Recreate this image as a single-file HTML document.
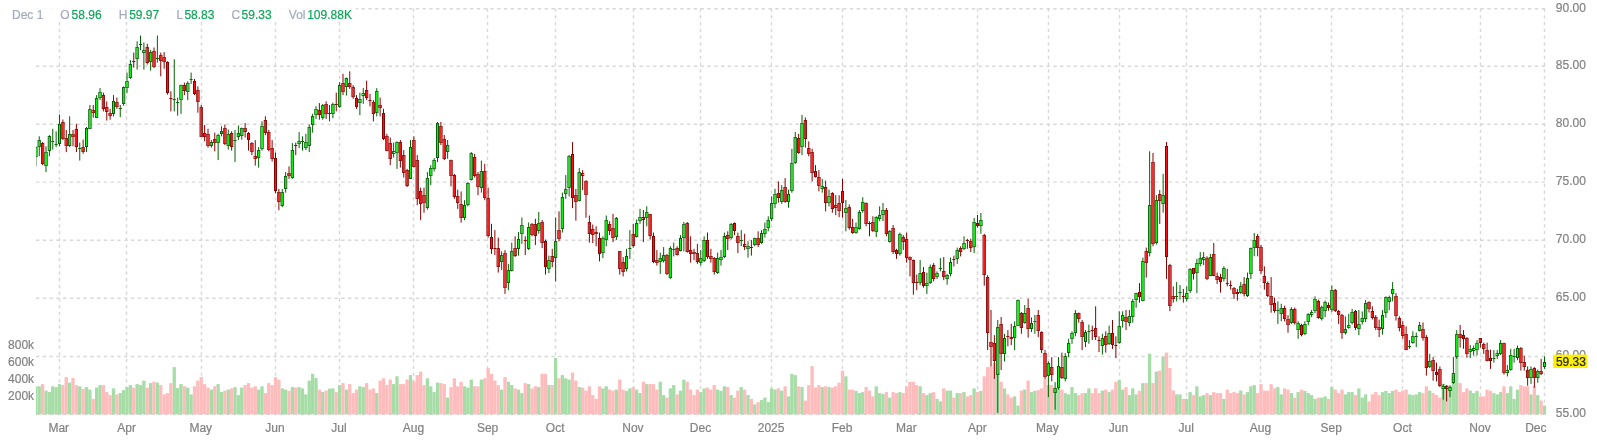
<!DOCTYPE html><html><head><meta charset="utf-8"><title>Chart</title><style>
html,body{margin:0;padding:0;background:#fff;}
body{width:1597px;height:444px;overflow:hidden;position:relative;font-family:"Liberation Sans",sans-serif;}
svg{position:absolute;left:0;top:0;}
.g{stroke:#006400;fill:#00ff00;stroke-width:1}.r{stroke:#8b0000;fill:#ff1010;stroke-width:1}
.t{font-family:"Liberation Sans",sans-serif;font-size:12px;stroke-width:0.2px;}
</style></head><body>
<svg width="1597" height="444" viewBox="0 0 1597 444">
<rect x="0" y="0" width="1597" height="444" fill="#ffffff"/>
<g stroke="#d8d8d8" stroke-width="1.45" stroke-dasharray="3.3 3.482" fill="none">
<line x1="36" y1="8.7" x2="1545" y2="8.7"/>
<line x1="36" y1="66.2" x2="1545" y2="66.2"/>
<line x1="36" y1="124.3" x2="1545" y2="124.3"/>
<line x1="36" y1="182.1" x2="1545" y2="182.1"/>
<line x1="36" y1="240.3" x2="1545" y2="240.3"/>
<line x1="36" y1="298.3" x2="1545" y2="298.3"/>
<line x1="36" y1="356.5" x2="1545" y2="356.5"/>
<line x1="36" y1="414.3" x2="1545" y2="414.3"/>
<line x1="59.5" y1="8.5" x2="59.5" y2="414.5" stroke-dasharray="3.3 3.44"/>
<line x1="126.5" y1="8.5" x2="126.5" y2="414.5" stroke-dasharray="3.3 3.44"/>
<line x1="201.5" y1="8.5" x2="201.5" y2="414.5" stroke-dasharray="3.3 3.44"/>
<line x1="275.5" y1="8.5" x2="275.5" y2="414.5" stroke-dasharray="3.3 3.44"/>
<line x1="339.5" y1="8.5" x2="339.5" y2="414.5" stroke-dasharray="3.3 3.44"/>
<line x1="413.5" y1="8.5" x2="413.5" y2="414.5" stroke-dasharray="3.3 3.44"/>
<line x1="487.5" y1="8.5" x2="487.5" y2="414.5" stroke-dasharray="3.3 3.44"/>
<line x1="555.5" y1="8.5" x2="555.5" y2="414.5" stroke-dasharray="3.3 3.44"/>
<line x1="633.5" y1="8.5" x2="633.5" y2="414.5" stroke-dasharray="3.3 3.44"/>
<line x1="700.5" y1="8.5" x2="700.5" y2="414.5" stroke-dasharray="3.3 3.44"/>
<line x1="771.5" y1="8.5" x2="771.5" y2="414.5" stroke-dasharray="3.3 3.44"/>
<line x1="842.5" y1="8.5" x2="842.5" y2="414.5" stroke-dasharray="3.3 3.44"/>
<line x1="906.5" y1="8.5" x2="906.5" y2="414.5" stroke-dasharray="3.3 3.44"/>
<line x1="977.5" y1="8.5" x2="977.5" y2="414.5" stroke-dasharray="3.3 3.44"/>
<line x1="1048.5" y1="8.5" x2="1048.5" y2="414.5" stroke-dasharray="3.3 3.44"/>
<line x1="1119.5" y1="8.5" x2="1119.5" y2="414.5" stroke-dasharray="3.3 3.44"/>
<line x1="1186.5" y1="8.5" x2="1186.5" y2="414.5" stroke-dasharray="3.3 3.44"/>
<line x1="1260.5" y1="8.5" x2="1260.5" y2="414.5" stroke-dasharray="3.3 3.44"/>
<line x1="1331.5" y1="8.5" x2="1331.5" y2="414.5" stroke-dasharray="3.3 3.44"/>
<line x1="1402.5" y1="8.5" x2="1402.5" y2="414.5" stroke-dasharray="3.3 3.44"/>
<line x1="1480.5" y1="8.5" x2="1480.5" y2="414.5" stroke-dasharray="3.3 3.44"/>
<line x1="1544.5" y1="8.5" x2="1544.5" y2="414.5" stroke-dasharray="3.3 3.44"/>
</g>
<defs><clipPath id="cp"><rect x="36" y="0" width="1511" height="415"/></clipPath></defs>
<g clip-path="url(#cp)">
<g fill="#a6dca6"><rect x="1542.84" y="405.6" width="3.3" height="8.8"/><rect x="1536.09" y="395.1" width="3.3" height="19.3"/><rect x="1529.34" y="394.4" width="3.3" height="20.0"/><rect x="1515.84" y="389.6" width="3.3" height="24.8"/><rect x="1512.46" y="398.9" width="3.3" height="15.5"/><rect x="1509.09" y="386.3" width="3.3" height="28.1"/><rect x="1505.71" y="393.1" width="3.3" height="21.3"/><rect x="1498.96" y="392.1" width="3.3" height="22.3"/><rect x="1495.59" y="394.4" width="3.3" height="20.0"/><rect x="1492.21" y="393.1" width="3.3" height="21.3"/><rect x="1475.34" y="390.9" width="3.3" height="23.5"/><rect x="1471.96" y="393.1" width="3.3" height="21.3"/><rect x="1468.59" y="390.6" width="3.3" height="23.8"/><rect x="1455.09" y="356.3" width="3.3" height="58.1"/><rect x="1451.71" y="376.3" width="3.3" height="38.1"/><rect x="1448.34" y="386.3" width="3.3" height="28.1"/><rect x="1441.59" y="383.8" width="3.3" height="30.6"/><rect x="1428.09" y="390.6" width="3.3" height="23.8"/><rect x="1417.96" y="392.1" width="3.3" height="22.3"/><rect x="1414.59" y="394.4" width="3.3" height="20.0"/><rect x="1411.21" y="395.1" width="3.3" height="19.3"/><rect x="1407.84" y="394.4" width="3.3" height="20.0"/><rect x="1390.96" y="390.9" width="3.3" height="23.5"/><rect x="1387.59" y="393.1" width="3.3" height="21.3"/><rect x="1384.21" y="390.9" width="3.3" height="23.5"/><rect x="1380.84" y="392.1" width="3.3" height="22.3"/><rect x="1363.96" y="394.4" width="3.3" height="20.0"/><rect x="1360.59" y="397.6" width="3.3" height="16.8"/><rect x="1357.21" y="388.4" width="3.3" height="26.0"/><rect x="1350.46" y="392.1" width="3.3" height="22.3"/><rect x="1347.09" y="392.1" width="3.3" height="22.3"/><rect x="1343.71" y="394.4" width="3.3" height="20.0"/><rect x="1330.21" y="387.1" width="3.3" height="27.3"/><rect x="1323.46" y="396.4" width="3.3" height="18.0"/><rect x="1320.09" y="397.6" width="3.3" height="16.8"/><rect x="1313.34" y="398.9" width="3.3" height="15.5"/><rect x="1309.96" y="395.1" width="3.3" height="19.3"/><rect x="1306.59" y="393.1" width="3.3" height="21.3"/><rect x="1303.21" y="390.9" width="3.3" height="23.5"/><rect x="1296.46" y="392.1" width="3.3" height="22.3"/><rect x="1289.71" y="393.1" width="3.3" height="21.3"/><rect x="1279.59" y="394.4" width="3.3" height="20.0"/><rect x="1276.21" y="387.1" width="3.3" height="27.3"/><rect x="1252.59" y="385.1" width="3.3" height="29.3"/><rect x="1249.21" y="386.3" width="3.3" height="28.1"/><rect x="1245.84" y="392.1" width="3.3" height="22.3"/><rect x="1239.09" y="390.6" width="3.3" height="23.8"/><rect x="1222.21" y="398.9" width="3.3" height="15.5"/><rect x="1208.71" y="395.1" width="3.3" height="19.3"/><rect x="1201.96" y="395.1" width="3.3" height="19.3"/><rect x="1198.59" y="396.4" width="3.3" height="18.0"/><rect x="1195.21" y="386.3" width="3.3" height="28.1"/><rect x="1188.46" y="392.1" width="3.3" height="22.3"/><rect x="1185.09" y="398.9" width="3.3" height="15.5"/><rect x="1178.34" y="394.4" width="3.3" height="20.0"/><rect x="1174.96" y="394.4" width="3.3" height="20.0"/><rect x="1161.46" y="357.0" width="3.3" height="57.4"/><rect x="1154.71" y="371.6" width="3.3" height="42.8"/><rect x="1147.96" y="353.8" width="3.3" height="60.6"/><rect x="1141.21" y="383.1" width="3.3" height="31.3"/><rect x="1134.46" y="394.4" width="3.3" height="20.0"/><rect x="1131.09" y="388.4" width="3.3" height="26.0"/><rect x="1127.71" y="395.1" width="3.3" height="19.3"/><rect x="1120.96" y="389.6" width="3.3" height="24.8"/><rect x="1117.59" y="380.1" width="3.3" height="34.3"/><rect x="1107.46" y="392.1" width="3.3" height="22.3"/><rect x="1100.71" y="390.6" width="3.3" height="23.8"/><rect x="1087.21" y="388.4" width="3.3" height="26.0"/><rect x="1083.84" y="393.1" width="3.3" height="21.3"/><rect x="1073.71" y="393.1" width="3.3" height="21.3"/><rect x="1070.34" y="387.1" width="3.3" height="27.3"/><rect x="1066.96" y="394.4" width="3.3" height="20.0"/><rect x="1063.59" y="393.1" width="3.3" height="21.3"/><rect x="1056.84" y="387.6" width="3.3" height="26.8"/><rect x="1053.46" y="388.9" width="3.3" height="25.5"/><rect x="1046.71" y="385.1" width="3.3" height="29.3"/><rect x="1033.21" y="390.9" width="3.3" height="23.5"/><rect x="1029.84" y="392.1" width="3.3" height="22.3"/><rect x="1023.09" y="389.6" width="3.3" height="24.8"/><rect x="1016.34" y="405.6" width="3.3" height="8.8"/><rect x="1012.97" y="396.4" width="3.3" height="18.0"/><rect x="1002.84" y="388.4" width="3.3" height="26.0"/><rect x="996.09" y="372.6" width="3.3" height="41.8"/><rect x="979.22" y="390.9" width="3.3" height="23.5"/><rect x="972.47" y="388.4" width="3.3" height="26.0"/><rect x="962.34" y="392.1" width="3.3" height="22.3"/><rect x="955.59" y="393.1" width="3.3" height="21.3"/><rect x="948.84" y="390.6" width="3.3" height="23.8"/><rect x="945.47" y="390.6" width="3.3" height="23.8"/><rect x="938.72" y="401.4" width="3.3" height="13.0"/><rect x="935.34" y="398.9" width="3.3" height="15.5"/><rect x="928.59" y="393.1" width="3.3" height="21.3"/><rect x="925.22" y="395.1" width="3.3" height="19.3"/><rect x="918.47" y="386.3" width="3.3" height="28.1"/><rect x="898.22" y="392.1" width="3.3" height="22.3"/><rect x="888.09" y="397.6" width="3.3" height="16.8"/><rect x="881.34" y="393.9" width="3.3" height="20.5"/><rect x="877.97" y="393.1" width="3.3" height="21.3"/><rect x="874.59" y="386.3" width="3.3" height="28.1"/><rect x="861.09" y="392.1" width="3.3" height="22.3"/><rect x="857.72" y="393.1" width="3.3" height="21.3"/><rect x="854.34" y="390.9" width="3.3" height="23.5"/><rect x="844.22" y="376.3" width="3.3" height="38.1"/><rect x="827.34" y="387.1" width="3.3" height="27.3"/><rect x="820.59" y="387.1" width="3.3" height="27.3"/><rect x="800.34" y="387.1" width="3.3" height="27.3"/><rect x="793.59" y="375.1" width="3.3" height="39.3"/><rect x="790.22" y="373.8" width="3.3" height="40.6"/><rect x="786.84" y="396.4" width="3.3" height="18.0"/><rect x="780.09" y="390.6" width="3.3" height="23.8"/><rect x="773.34" y="389.6" width="3.3" height="24.8"/><rect x="769.97" y="388.4" width="3.3" height="26.0"/><rect x="766.59" y="402.1" width="3.3" height="12.3"/><rect x="763.22" y="397.6" width="3.3" height="16.8"/><rect x="759.84" y="400.1" width="3.3" height="14.3"/><rect x="753.09" y="404.4" width="3.3" height="10.0"/><rect x="746.34" y="395.1" width="3.3" height="19.3"/><rect x="739.59" y="387.1" width="3.3" height="27.3"/><rect x="729.47" y="395.1" width="3.3" height="19.3"/><rect x="722.72" y="386.3" width="3.3" height="28.1"/><rect x="719.34" y="390.9" width="3.3" height="23.5"/><rect x="715.97" y="389.6" width="3.3" height="24.8"/><rect x="702.47" y="388.4" width="3.3" height="26.0"/><rect x="699.09" y="392.1" width="3.3" height="22.3"/><rect x="682.22" y="379.6" width="3.3" height="34.8"/><rect x="678.84" y="390.6" width="3.3" height="23.8"/><rect x="672.09" y="385.1" width="3.3" height="29.3"/><rect x="668.72" y="388.4" width="3.3" height="26.0"/><rect x="661.97" y="395.1" width="3.3" height="19.3"/><rect x="658.59" y="381.8" width="3.3" height="32.6"/><rect x="645.09" y="384.1" width="3.3" height="30.3"/><rect x="638.34" y="393.1" width="3.3" height="21.3"/><rect x="634.97" y="389.6" width="3.3" height="24.8"/><rect x="628.22" y="388.4" width="3.3" height="26.0"/><rect x="624.84" y="390.9" width="3.3" height="23.5"/><rect x="614.72" y="389.6" width="3.3" height="24.8"/><rect x="604.59" y="386.3" width="3.3" height="28.1"/><rect x="601.22" y="388.4" width="3.3" height="26.0"/><rect x="577.59" y="387.1" width="3.3" height="27.3"/><rect x="567.47" y="379.6" width="3.3" height="34.8"/><rect x="564.09" y="378.3" width="3.3" height="36.1"/><rect x="560.72" y="375.1" width="3.3" height="39.3"/><rect x="553.97" y="358.0" width="3.3" height="56.4"/><rect x="547.22" y="385.1" width="3.3" height="29.3"/><rect x="537.09" y="387.1" width="3.3" height="27.3"/><rect x="526.97" y="384.1" width="3.3" height="30.3"/><rect x="520.22" y="393.1" width="3.3" height="21.3"/><rect x="516.84" y="389.6" width="3.3" height="24.8"/><rect x="510.09" y="385.1" width="3.3" height="29.3"/><rect x="506.71" y="381.8" width="3.3" height="32.6"/><rect x="499.96" y="389.6" width="3.3" height="24.8"/><rect x="479.71" y="379.6" width="3.3" height="34.8"/><rect x="469.59" y="379.6" width="3.3" height="34.8"/><rect x="466.21" y="387.6" width="3.3" height="26.8"/><rect x="462.84" y="386.3" width="3.3" height="28.1"/><rect x="445.96" y="397.6" width="3.3" height="16.8"/><rect x="435.84" y="382.6" width="3.3" height="31.8"/><rect x="432.46" y="392.1" width="3.3" height="22.3"/><rect x="429.09" y="386.3" width="3.3" height="28.1"/><rect x="425.71" y="378.3" width="3.3" height="36.1"/><rect x="408.84" y="375.1" width="3.3" height="39.3"/><rect x="395.34" y="376.3" width="3.3" height="38.1"/><rect x="391.96" y="384.1" width="3.3" height="30.3"/><rect x="375.09" y="393.1" width="3.3" height="21.3"/><rect x="361.59" y="387.1" width="3.3" height="27.3"/><rect x="358.21" y="386.3" width="3.3" height="28.1"/><rect x="344.71" y="389.6" width="3.3" height="24.8"/><rect x="337.96" y="385.1" width="3.3" height="29.3"/><rect x="331.21" y="388.4" width="3.3" height="26.0"/><rect x="327.84" y="388.6" width="3.3" height="25.8"/><rect x="321.09" y="392.1" width="3.3" height="22.3"/><rect x="314.34" y="378.1" width="3.3" height="36.3"/><rect x="310.96" y="373.8" width="3.3" height="40.6"/><rect x="307.59" y="380.6" width="3.3" height="33.8"/><rect x="304.21" y="394.4" width="3.3" height="20.0"/><rect x="300.84" y="388.4" width="3.3" height="26.0"/><rect x="297.46" y="387.1" width="3.3" height="27.3"/><rect x="290.71" y="387.1" width="3.3" height="27.3"/><rect x="283.96" y="389.6" width="3.3" height="24.8"/><rect x="280.59" y="388.4" width="3.3" height="26.0"/><rect x="260.34" y="386.3" width="3.3" height="28.1"/><rect x="256.96" y="389.6" width="3.3" height="24.8"/><rect x="240.09" y="387.6" width="3.3" height="26.8"/><rect x="236.72" y="395.1" width="3.3" height="19.3"/><rect x="233.34" y="387.1" width="3.3" height="27.3"/><rect x="226.59" y="389.6" width="3.3" height="24.8"/><rect x="219.84" y="392.1" width="3.3" height="22.3"/><rect x="216.47" y="384.1" width="3.3" height="30.3"/><rect x="209.72" y="389.6" width="3.3" height="24.8"/><rect x="189.47" y="394.4" width="3.3" height="20.0"/><rect x="186.09" y="387.6" width="3.3" height="26.8"/><rect x="179.34" y="384.1" width="3.3" height="30.3"/><rect x="175.97" y="388.1" width="3.3" height="26.3"/><rect x="172.59" y="367.1" width="3.3" height="47.3"/><rect x="155.72" y="382.6" width="3.3" height="31.8"/><rect x="148.97" y="383.1" width="3.3" height="31.3"/><rect x="142.22" y="380.6" width="3.3" height="33.8"/><rect x="138.84" y="385.1" width="3.3" height="29.3"/><rect x="135.47" y="384.1" width="3.3" height="30.3"/><rect x="128.72" y="385.1" width="3.3" height="29.3"/><rect x="125.34" y="387.1" width="3.3" height="27.3"/><rect x="121.97" y="390.1" width="3.3" height="24.3"/><rect x="118.59" y="393.1" width="3.3" height="21.3"/><rect x="111.84" y="388.4" width="3.3" height="26.0"/><rect x="98.34" y="385.1" width="3.3" height="29.3"/><rect x="94.97" y="387.6" width="3.3" height="26.8"/><rect x="88.22" y="389.6" width="3.3" height="24.8"/><rect x="84.84" y="387.1" width="3.3" height="27.3"/><rect x="78.09" y="386.3" width="3.3" height="28.1"/><rect x="67.97" y="382.6" width="3.3" height="31.8"/><rect x="57.84" y="384.1" width="3.3" height="30.3"/><rect x="54.47" y="387.1" width="3.3" height="27.3"/><rect x="51.09" y="386.3" width="3.3" height="28.1"/><rect x="47.72" y="392.1" width="3.3" height="22.3"/><rect x="44.34" y="390.6" width="3.3" height="23.8"/><rect x="37.59" y="386.3" width="3.3" height="28.1"/><rect x="34.22" y="386.3" width="3.3" height="28.1"/></g>
<g fill="#ffbcbc"><rect x="1539.46" y="400.6" width="3.3" height="13.8"/><rect x="1532.71" y="386.3" width="3.3" height="28.1"/><rect x="1525.96" y="386.3" width="3.3" height="28.1"/><rect x="1522.59" y="386.3" width="3.3" height="28.1"/><rect x="1519.21" y="385.1" width="3.3" height="29.3"/><rect x="1502.34" y="386.3" width="3.3" height="28.1"/><rect x="1488.84" y="390.9" width="3.3" height="23.5"/><rect x="1485.46" y="389.6" width="3.3" height="24.8"/><rect x="1482.09" y="396.4" width="3.3" height="18.0"/><rect x="1478.71" y="396.4" width="3.3" height="18.0"/><rect x="1465.21" y="388.4" width="3.3" height="26.0"/><rect x="1461.84" y="392.1" width="3.3" height="22.3"/><rect x="1458.46" y="383.1" width="3.3" height="31.3"/><rect x="1444.96" y="385.1" width="3.3" height="29.3"/><rect x="1438.21" y="397.6" width="3.3" height="16.8"/><rect x="1434.84" y="395.1" width="3.3" height="19.3"/><rect x="1431.46" y="393.1" width="3.3" height="21.3"/><rect x="1424.71" y="386.3" width="3.3" height="28.1"/><rect x="1421.34" y="393.1" width="3.3" height="21.3"/><rect x="1404.46" y="389.6" width="3.3" height="24.8"/><rect x="1401.09" y="390.6" width="3.3" height="23.8"/><rect x="1397.71" y="392.1" width="3.3" height="22.3"/><rect x="1394.34" y="389.6" width="3.3" height="24.8"/><rect x="1377.46" y="395.1" width="3.3" height="19.3"/><rect x="1374.09" y="392.1" width="3.3" height="22.3"/><rect x="1370.71" y="394.4" width="3.3" height="20.0"/><rect x="1367.34" y="401.4" width="3.3" height="13.0"/><rect x="1353.84" y="395.1" width="3.3" height="19.3"/><rect x="1340.34" y="389.6" width="3.3" height="24.8"/><rect x="1336.96" y="393.1" width="3.3" height="21.3"/><rect x="1333.59" y="389.6" width="3.3" height="24.8"/><rect x="1326.84" y="398.9" width="3.3" height="15.5"/><rect x="1316.71" y="397.6" width="3.3" height="16.8"/><rect x="1299.84" y="389.6" width="3.3" height="24.8"/><rect x="1293.09" y="397.6" width="3.3" height="16.8"/><rect x="1286.34" y="389.6" width="3.3" height="24.8"/><rect x="1282.96" y="388.4" width="3.3" height="26.0"/><rect x="1272.84" y="388.4" width="3.3" height="26.0"/><rect x="1269.46" y="384.1" width="3.3" height="30.3"/><rect x="1266.09" y="390.6" width="3.3" height="23.8"/><rect x="1262.71" y="390.6" width="3.3" height="23.8"/><rect x="1259.34" y="384.1" width="3.3" height="30.3"/><rect x="1255.96" y="393.1" width="3.3" height="21.3"/><rect x="1242.46" y="394.4" width="3.3" height="20.0"/><rect x="1235.71" y="393.1" width="3.3" height="21.3"/><rect x="1232.34" y="392.1" width="3.3" height="22.3"/><rect x="1228.96" y="393.1" width="3.3" height="21.3"/><rect x="1225.59" y="389.6" width="3.3" height="24.8"/><rect x="1218.84" y="393.1" width="3.3" height="21.3"/><rect x="1215.46" y="393.1" width="3.3" height="21.3"/><rect x="1212.09" y="392.1" width="3.3" height="22.3"/><rect x="1205.34" y="393.1" width="3.3" height="21.3"/><rect x="1191.84" y="395.1" width="3.3" height="19.3"/><rect x="1181.71" y="398.9" width="3.3" height="15.5"/><rect x="1171.59" y="390.6" width="3.3" height="23.8"/><rect x="1168.21" y="368.1" width="3.3" height="46.3"/><rect x="1164.84" y="352.5" width="3.3" height="61.9"/><rect x="1158.09" y="370.6" width="3.3" height="43.8"/><rect x="1151.34" y="383.1" width="3.3" height="31.3"/><rect x="1144.59" y="383.1" width="3.3" height="31.3"/><rect x="1137.84" y="390.9" width="3.3" height="23.5"/><rect x="1124.34" y="387.1" width="3.3" height="27.3"/><rect x="1114.21" y="381.8" width="3.3" height="32.6"/><rect x="1110.84" y="389.6" width="3.3" height="24.8"/><rect x="1104.09" y="389.6" width="3.3" height="24.8"/><rect x="1097.34" y="393.1" width="3.3" height="21.3"/><rect x="1093.96" y="388.4" width="3.3" height="26.0"/><rect x="1090.59" y="393.1" width="3.3" height="21.3"/><rect x="1080.46" y="393.1" width="3.3" height="21.3"/><rect x="1077.09" y="395.1" width="3.3" height="19.3"/><rect x="1060.21" y="389.6" width="3.3" height="24.8"/><rect x="1050.09" y="385.1" width="3.3" height="29.3"/><rect x="1043.34" y="378.8" width="3.3" height="35.6"/><rect x="1039.96" y="388.4" width="3.3" height="26.0"/><rect x="1036.59" y="390.1" width="3.3" height="24.3"/><rect x="1026.46" y="380.6" width="3.3" height="33.8"/><rect x="1019.72" y="390.6" width="3.3" height="23.8"/><rect x="1009.59" y="397.6" width="3.3" height="16.8"/><rect x="1006.22" y="394.4" width="3.3" height="20.0"/><rect x="999.47" y="381.8" width="3.3" height="32.6"/><rect x="992.72" y="363.1" width="3.3" height="51.3"/><rect x="989.34" y="366.3" width="3.3" height="48.1"/><rect x="985.97" y="367.1" width="3.3" height="47.3"/><rect x="982.59" y="376.3" width="3.3" height="38.1"/><rect x="975.84" y="392.1" width="3.3" height="22.3"/><rect x="969.09" y="395.1" width="3.3" height="19.3"/><rect x="965.72" y="396.4" width="3.3" height="18.0"/><rect x="958.97" y="393.1" width="3.3" height="21.3"/><rect x="952.22" y="397.6" width="3.3" height="16.8"/><rect x="942.09" y="388.4" width="3.3" height="26.0"/><rect x="931.97" y="392.1" width="3.3" height="22.3"/><rect x="921.84" y="393.1" width="3.3" height="21.3"/><rect x="915.09" y="385.1" width="3.3" height="29.3"/><rect x="911.72" y="381.8" width="3.3" height="32.6"/><rect x="908.34" y="381.8" width="3.3" height="32.6"/><rect x="904.97" y="386.3" width="3.3" height="28.1"/><rect x="901.59" y="393.1" width="3.3" height="21.3"/><rect x="894.84" y="393.1" width="3.3" height="21.3"/><rect x="891.47" y="392.1" width="3.3" height="22.3"/><rect x="884.72" y="392.1" width="3.3" height="22.3"/><rect x="871.22" y="396.4" width="3.3" height="18.0"/><rect x="867.84" y="390.6" width="3.3" height="23.8"/><rect x="864.47" y="387.1" width="3.3" height="27.3"/><rect x="850.97" y="389.6" width="3.3" height="24.8"/><rect x="847.59" y="389.6" width="3.3" height="24.8"/><rect x="840.84" y="370.6" width="3.3" height="43.8"/><rect x="837.47" y="382.6" width="3.3" height="31.8"/><rect x="834.09" y="386.3" width="3.3" height="28.1"/><rect x="830.72" y="387.6" width="3.3" height="26.8"/><rect x="823.97" y="386.3" width="3.3" height="28.1"/><rect x="817.22" y="385.1" width="3.3" height="29.3"/><rect x="813.84" y="387.6" width="3.3" height="26.8"/><rect x="810.47" y="366.1" width="3.3" height="48.3"/><rect x="807.09" y="385.1" width="3.3" height="29.3"/><rect x="803.72" y="400.6" width="3.3" height="13.8"/><rect x="796.97" y="386.3" width="3.3" height="28.1"/><rect x="783.47" y="386.3" width="3.3" height="28.1"/><rect x="776.72" y="388.4" width="3.3" height="26.0"/><rect x="756.47" y="402.1" width="3.3" height="12.3"/><rect x="749.72" y="398.9" width="3.3" height="15.5"/><rect x="742.97" y="389.6" width="3.3" height="24.8"/><rect x="736.22" y="390.6" width="3.3" height="23.8"/><rect x="732.84" y="397.6" width="3.3" height="16.8"/><rect x="726.09" y="387.1" width="3.3" height="27.3"/><rect x="712.59" y="385.1" width="3.3" height="29.3"/><rect x="709.22" y="389.6" width="3.3" height="24.8"/><rect x="705.84" y="387.6" width="3.3" height="26.8"/><rect x="695.72" y="389.6" width="3.3" height="24.8"/><rect x="692.34" y="395.1" width="3.3" height="19.3"/><rect x="688.97" y="389.6" width="3.3" height="24.8"/><rect x="685.59" y="381.8" width="3.3" height="32.6"/><rect x="675.47" y="394.4" width="3.3" height="20.0"/><rect x="665.34" y="397.6" width="3.3" height="16.8"/><rect x="655.22" y="389.6" width="3.3" height="24.8"/><rect x="651.84" y="384.1" width="3.3" height="30.3"/><rect x="648.47" y="384.1" width="3.3" height="30.3"/><rect x="641.72" y="381.8" width="3.3" height="32.6"/><rect x="631.59" y="387.1" width="3.3" height="27.3"/><rect x="621.47" y="389.6" width="3.3" height="24.8"/><rect x="618.09" y="379.6" width="3.3" height="34.8"/><rect x="611.34" y="390.6" width="3.3" height="23.8"/><rect x="607.97" y="389.6" width="3.3" height="24.8"/><rect x="597.84" y="386.3" width="3.3" height="28.1"/><rect x="594.47" y="398.9" width="3.3" height="15.5"/><rect x="591.09" y="395.1" width="3.3" height="19.3"/><rect x="587.72" y="386.3" width="3.3" height="28.1"/><rect x="584.34" y="390.6" width="3.3" height="23.8"/><rect x="580.97" y="387.6" width="3.3" height="26.8"/><rect x="574.22" y="380.6" width="3.3" height="33.8"/><rect x="570.84" y="372.6" width="3.3" height="41.8"/><rect x="557.34" y="378.3" width="3.3" height="36.1"/><rect x="550.59" y="385.1" width="3.3" height="29.3"/><rect x="543.84" y="373.8" width="3.3" height="40.6"/><rect x="540.47" y="373.8" width="3.3" height="40.6"/><rect x="533.72" y="386.3" width="3.3" height="28.1"/><rect x="530.34" y="388.4" width="3.3" height="26.0"/><rect x="523.59" y="383.1" width="3.3" height="31.3"/><rect x="513.47" y="388.4" width="3.3" height="26.0"/><rect x="503.34" y="377.1" width="3.3" height="37.3"/><rect x="496.59" y="385.1" width="3.3" height="29.3"/><rect x="493.21" y="380.6" width="3.3" height="33.8"/><rect x="489.84" y="373.8" width="3.3" height="40.6"/><rect x="486.46" y="368.1" width="3.3" height="46.3"/><rect x="483.09" y="378.3" width="3.3" height="36.1"/><rect x="476.34" y="386.3" width="3.3" height="28.1"/><rect x="472.96" y="386.3" width="3.3" height="28.1"/><rect x="459.46" y="381.8" width="3.3" height="32.6"/><rect x="456.09" y="386.3" width="3.3" height="28.1"/><rect x="452.71" y="378.3" width="3.3" height="36.1"/><rect x="449.34" y="387.1" width="3.3" height="27.3"/><rect x="442.59" y="384.1" width="3.3" height="30.3"/><rect x="439.21" y="383.1" width="3.3" height="31.3"/><rect x="422.34" y="385.1" width="3.3" height="29.3"/><rect x="418.96" y="371.6" width="3.3" height="42.8"/><rect x="415.59" y="375.1" width="3.3" height="39.3"/><rect x="412.21" y="381.3" width="3.3" height="33.1"/><rect x="405.46" y="379.6" width="3.3" height="34.8"/><rect x="402.09" y="384.1" width="3.3" height="30.3"/><rect x="398.71" y="384.1" width="3.3" height="30.3"/><rect x="388.59" y="379.6" width="3.3" height="34.8"/><rect x="385.21" y="385.1" width="3.3" height="29.3"/><rect x="381.84" y="378.3" width="3.3" height="36.1"/><rect x="378.46" y="380.6" width="3.3" height="33.8"/><rect x="371.71" y="388.4" width="3.3" height="26.0"/><rect x="368.34" y="389.6" width="3.3" height="24.8"/><rect x="364.96" y="383.1" width="3.3" height="31.3"/><rect x="354.84" y="389.6" width="3.3" height="24.8"/><rect x="351.46" y="393.1" width="3.3" height="21.3"/><rect x="348.09" y="384.1" width="3.3" height="30.3"/><rect x="341.34" y="383.1" width="3.3" height="31.3"/><rect x="334.59" y="392.1" width="3.3" height="22.3"/><rect x="324.46" y="390.6" width="3.3" height="23.8"/><rect x="317.71" y="389.6" width="3.3" height="24.8"/><rect x="294.09" y="387.6" width="3.3" height="26.8"/><rect x="287.34" y="390.9" width="3.3" height="23.5"/><rect x="277.21" y="379.6" width="3.3" height="34.8"/><rect x="273.84" y="377.1" width="3.3" height="37.3"/><rect x="270.46" y="385.1" width="3.3" height="29.3"/><rect x="267.09" y="383.1" width="3.3" height="31.3"/><rect x="263.71" y="393.1" width="3.3" height="21.3"/><rect x="253.59" y="386.3" width="3.3" height="28.1"/><rect x="250.22" y="387.6" width="3.3" height="26.8"/><rect x="246.84" y="383.1" width="3.3" height="31.3"/><rect x="243.47" y="385.1" width="3.3" height="29.3"/><rect x="229.97" y="388.4" width="3.3" height="26.0"/><rect x="223.22" y="390.6" width="3.3" height="23.8"/><rect x="213.09" y="386.3" width="3.3" height="28.1"/><rect x="206.34" y="387.6" width="3.3" height="26.8"/><rect x="202.97" y="384.1" width="3.3" height="30.3"/><rect x="199.59" y="377.1" width="3.3" height="37.3"/><rect x="196.22" y="380.6" width="3.3" height="33.8"/><rect x="192.84" y="386.3" width="3.3" height="28.1"/><rect x="182.72" y="386.3" width="3.3" height="28.1"/><rect x="169.22" y="383.1" width="3.3" height="31.3"/><rect x="165.84" y="393.1" width="3.3" height="21.3"/><rect x="162.47" y="394.4" width="3.3" height="20.0"/><rect x="159.09" y="385.1" width="3.3" height="29.3"/><rect x="152.34" y="381.8" width="3.3" height="32.6"/><rect x="145.59" y="387.6" width="3.3" height="26.8"/><rect x="132.09" y="387.6" width="3.3" height="26.8"/><rect x="115.22" y="394.4" width="3.3" height="20.0"/><rect x="108.47" y="395.1" width="3.3" height="19.3"/><rect x="105.09" y="392.1" width="3.3" height="22.3"/><rect x="101.72" y="385.1" width="3.3" height="29.3"/><rect x="91.59" y="398.9" width="3.3" height="15.5"/><rect x="81.47" y="388.9" width="3.3" height="25.5"/><rect x="74.72" y="385.1" width="3.3" height="29.3"/><rect x="71.34" y="378.1" width="3.3" height="36.3"/><rect x="64.59" y="377.1" width="3.3" height="37.3"/><rect x="61.22" y="385.1" width="3.3" height="29.3"/><rect x="40.97" y="384.1" width="3.3" height="30.3"/></g>
<g class="g"><path d="M35.875 146.3V166.4"/><rect x="35.000" y="148.0" width="1.750" height="8.0" stroke="none" fill-opacity="0.79"/><rect x="34.500" y="147.5" width="2.750" height="9.0" fill="none" stroke-opacity="0.78"/></g>
<g class="g"><path d="M39.250 136.3V156.3"/><rect x="38.500" y="141.0" width="1.500" height="5.0" stroke="none" fill-opacity="0.86"/><rect x="38.000" y="140.5" width="2.500" height="6.0" fill="none" stroke-opacity="0.85"/></g>
<g class="r"><path d="M42.625 142.1V165.1"/><rect x="42.000" y="144.0" width="1.250" height="19.0" stroke="none" fill-opacity="0.93"/><rect x="41.500" y="143.5" width="2.250" height="20.0" fill="none" stroke-opacity="0.93"/></g>
<g class="g"><path d="M46.000 146.3V172.1"/><rect x="45.000" y="153.0" width="2.000" height="12.0" stroke="none" fill-opacity="0.72"/><rect x="44.500" y="152.5" width="3.000" height="13.0" fill="none" stroke-opacity="0.70"/></g>
<g class="g"><path d="M49.375 135.1V156.3"/><rect x="48.750" y="137.0" width="1.250" height="13.0" stroke="none" fill-opacity="0.93"/><rect x="48.250" y="136.5" width="2.250" height="14.0" fill="none" stroke-opacity="0.93"/></g>
<g class="g"><path d="M52.750 128.8V149.6"/><path d="M51.250 141.5H54.250"/></g>
<g class="g"><path d="M56.125 131.3V147.1"/><path d="M54.625 144.5H57.625"/></g>
<g class="g"><path d="M59.500 114.5V146.3"/><rect x="59.000" y="125.0" width="1.000" height="18.0" stroke="none"/><rect x="58.500" y="124.5" width="2.000" height="19.0" fill="none"/></g>
<g class="r"><path d="M62.875 119.5V140.1"/><rect x="62.000" y="123.0" width="1.750" height="15.0" stroke="none" fill-opacity="0.79"/><rect x="61.500" y="122.5" width="2.750" height="16.0" fill="none" stroke-opacity="0.78"/></g>
<g class="r"><path d="M66.250 130.0V152.1"/><rect x="65.500" y="139.0" width="1.500" height="6.0" stroke="none" fill-opacity="0.86"/><rect x="65.000" y="138.5" width="2.500" height="7.0" fill="none" stroke-opacity="0.85"/></g>
<g class="g"><path d="M69.625 116.3V147.1"/><rect x="69.000" y="135.0" width="1.250" height="10.0" stroke="none" fill-opacity="0.93"/><rect x="68.500" y="134.5" width="2.250" height="11.0" fill="none" stroke-opacity="0.93"/></g>
<g class="r"><path d="M73.000 130.0V146.3"/><rect x="72.000" y="135.0" width="2.000" height="1.0" stroke="none" fill-opacity="0.72"/><rect x="71.500" y="134.5" width="3.000" height="2.0" fill="none" stroke-opacity="0.70"/></g>
<g class="r"><path d="M76.375 123.8V152.1"/><rect x="75.750" y="130.0" width="1.250" height="16.0" stroke="none" fill-opacity="0.93"/><rect x="75.250" y="129.5" width="2.250" height="17.0" fill="none" stroke-opacity="0.93"/></g>
<g class="g"><path d="M79.750 142.6V160.6"/><path d="M78.250 148.5H81.250"/></g>
<g class="r"><path d="M83.125 139.6V153.8"/><rect x="82.250" y="148.0" width="1.750" height="3.0" stroke="none" fill-opacity="0.79"/><rect x="81.750" y="147.5" width="2.750" height="4.0" fill="none" stroke-opacity="0.78"/></g>
<g class="g"><path d="M86.500 127.0V152.1"/><rect x="86.000" y="129.0" width="1.000" height="17.0" stroke="none"/><rect x="85.500" y="128.5" width="2.000" height="18.0" fill="none"/></g>
<g class="g"><path d="M89.875 105.0V128.9"/><rect x="89.000" y="110.0" width="1.750" height="18.0" stroke="none" fill-opacity="0.79"/><rect x="88.500" y="109.5" width="2.750" height="19.0" fill="none" stroke-opacity="0.78"/></g>
<g class="r"><path d="M93.250 105.0V117.7"/><rect x="92.500" y="111.0" width="1.500" height="1.0" stroke="none" fill-opacity="0.86"/><rect x="92.000" y="110.5" width="2.500" height="2.0" fill="none" stroke-opacity="0.85"/></g>
<g class="g"><path d="M96.625 95.1V117.5"/><rect x="96.000" y="99.0" width="1.250" height="18.0" stroke="none" fill-opacity="0.93"/><rect x="95.500" y="98.5" width="2.250" height="19.0" fill="none" stroke-opacity="0.93"/></g>
<g class="g"><path d="M100.000 88.1V100.1"/><rect x="99.000" y="93.0" width="2.000" height="4.0" stroke="none" fill-opacity="0.72"/><rect x="98.500" y="92.5" width="3.000" height="5.0" fill="none" stroke-opacity="0.70"/></g>
<g class="r"><path d="M103.375 92.6V111.4"/><rect x="102.750" y="96.0" width="1.250" height="12.0" stroke="none" fill-opacity="0.93"/><rect x="102.250" y="95.5" width="2.250" height="13.0" fill="none" stroke-opacity="0.93"/></g>
<g class="r"><path d="M106.750 101.4V120.5"/><rect x="106.000" y="108.0" width="1.500" height="3.0" stroke="none" fill-opacity="0.86"/><rect x="105.500" y="107.5" width="2.500" height="4.0" fill="none" stroke-opacity="0.85"/></g>
<g class="r"><path d="M110.125 108.9V119.7"/><rect x="109.250" y="114.0" width="1.750" height="1.0" stroke="none" fill-opacity="0.79"/><rect x="108.750" y="113.5" width="2.750" height="2.0" fill="none" stroke-opacity="0.78"/></g>
<g class="g"><path d="M113.500 95.1V116.4"/><rect x="113.000" y="102.0" width="1.000" height="11.0" stroke="none"/><rect x="112.500" y="101.5" width="2.000" height="12.0" fill="none"/></g>
<g class="r"><path d="M116.875 97.6V108.9"/><rect x="116.000" y="103.0" width="1.750" height="3.0" stroke="none" fill-opacity="0.79"/><rect x="115.500" y="102.5" width="2.750" height="4.0" fill="none" stroke-opacity="0.78"/></g>
<g class="g"><path d="M120.250 105.0V117.2"/><path d="M118.750 108.5H121.750"/></g>
<g class="g"><path d="M123.625 86.4V105.7"/><rect x="123.000" y="88.0" width="1.250" height="15.0" stroke="none" fill-opacity="0.93"/><rect x="122.500" y="87.5" width="2.250" height="16.0" fill="none" stroke-opacity="0.93"/></g>
<g class="g"><path d="M127.000 72.6V93.1"/><rect x="126.000" y="82.0" width="2.000" height="5.0" stroke="none" fill-opacity="0.72"/><rect x="125.500" y="81.5" width="3.000" height="6.0" fill="none" stroke-opacity="0.70"/></g>
<g class="g"><path d="M130.375 60.1V78.9"/><rect x="129.750" y="65.0" width="1.250" height="12.0" stroke="none" fill-opacity="0.93"/><rect x="129.250" y="64.5" width="2.250" height="13.0" fill="none" stroke-opacity="0.93"/></g>
<g class="r"><path d="M133.750 52.6V67.6"/><path d="M132.250 61.5H135.250"/></g>
<g class="g"><path d="M137.125 41.3V69.6"/><rect x="136.250" y="48.0" width="1.750" height="10.0" stroke="none" fill-opacity="0.79"/><rect x="135.750" y="47.5" width="2.750" height="11.0" fill="none" stroke-opacity="0.78"/></g>
<g class="g"><path d="M140.500 35.5V50.0"/><path d="M139.000 44.5H142.000"/></g>
<g class="g"><path d="M143.875 42.5V69.6"/><rect x="143.000" y="51.0" width="1.750" height="1.0" stroke="none" fill-opacity="0.79"/><rect x="142.500" y="50.5" width="2.750" height="2.0" fill="none" stroke-opacity="0.78"/></g>
<g class="r"><path d="M147.250 43.8V64.6"/><rect x="146.500" y="48.0" width="1.500" height="14.0" stroke="none" fill-opacity="0.86"/><rect x="146.000" y="47.5" width="2.500" height="15.0" fill="none" stroke-opacity="0.85"/></g>
<g class="g"><path d="M150.625 50.0V70.6"/><rect x="150.000" y="53.0" width="1.250" height="8.0" stroke="none" fill-opacity="0.93"/><rect x="149.500" y="52.5" width="2.250" height="9.0" fill="none" stroke-opacity="0.93"/></g>
<g class="r"><path d="M154.000 47.5V68.1"/><rect x="153.000" y="52.0" width="2.000" height="14.0" stroke="none" fill-opacity="0.72"/><rect x="152.500" y="51.5" width="3.000" height="15.0" fill="none" stroke-opacity="0.70"/></g>
<g class="g"><path d="M157.375 35.5V62.6"/><path d="M155.875 58.5H158.875"/></g>
<g class="r"><path d="M160.750 52.6V76.3"/><rect x="160.000" y="56.0" width="1.500" height="4.0" stroke="none" fill-opacity="0.86"/><rect x="159.500" y="55.5" width="2.500" height="5.0" fill="none" stroke-opacity="0.85"/></g>
<g class="r"><path d="M164.125 52.1V68.8"/><rect x="163.250" y="58.0" width="1.750" height="3.0" stroke="none" fill-opacity="0.79"/><rect x="162.750" y="57.5" width="2.750" height="4.0" fill="none" stroke-opacity="0.78"/></g>
<g class="r"><path d="M167.500 61.3V94.6"/><rect x="167.000" y="63.0" width="1.000" height="29.0" stroke="none"/><rect x="166.500" y="62.5" width="2.000" height="30.0" fill="none"/></g>
<g class="r"><path d="M170.875 91.4V111.4"/><path d="M169.375 98.5H172.375"/></g>
<g class="g"><path d="M174.250 59.3V111.4"/><path d="M172.750 99.5H175.750"/></g>
<g class="g"><path d="M177.625 97.6V115.7"/><path d="M176.125 102.5H179.125"/></g>
<g class="g"><path d="M181.000 84.6V113.9"/><rect x="180.000" y="86.0" width="2.000" height="13.0" stroke="none" fill-opacity="0.72"/><rect x="179.500" y="85.5" width="3.000" height="14.0" fill="none" stroke-opacity="0.70"/></g>
<g class="r"><path d="M184.375 82.6V95.1"/><rect x="183.750" y="86.0" width="1.250" height="4.0" stroke="none" fill-opacity="0.93"/><rect x="183.250" y="85.5" width="2.250" height="5.0" fill="none" stroke-opacity="0.93"/></g>
<g class="g"><path d="M187.750 81.4V100.1"/><rect x="187.000" y="84.0" width="1.500" height="7.0" stroke="none" fill-opacity="0.86"/><rect x="186.500" y="83.5" width="2.500" height="8.0" fill="none" stroke-opacity="0.85"/></g>
<g class="g"><path d="M191.125 72.6V83.9"/><path d="M189.625 79.5H192.625"/></g>
<g class="r"><path d="M194.500 78.9V95.1"/><rect x="194.000" y="82.0" width="1.000" height="11.0" stroke="none"/><rect x="193.500" y="81.5" width="2.000" height="12.0" fill="none"/></g>
<g class="r"><path d="M197.875 86.4V112.7"/><rect x="197.000" y="91.0" width="1.750" height="10.0" stroke="none" fill-opacity="0.79"/><rect x="196.500" y="90.5" width="2.750" height="11.0" fill="none" stroke-opacity="0.78"/></g>
<g class="r"><path d="M201.250 105.0V136.3"/><rect x="200.500" y="108.0" width="1.500" height="28.0" stroke="none" fill-opacity="0.86"/><rect x="200.000" y="107.5" width="2.500" height="29.0" fill="none" stroke-opacity="0.85"/></g>
<g class="r"><path d="M204.625 125.0V141.3"/><rect x="204.000" y="134.0" width="1.250" height="2.0" stroke="none" fill-opacity="0.93"/><rect x="203.500" y="133.5" width="2.250" height="3.0" fill="none" stroke-opacity="0.93"/></g>
<g class="r"><path d="M208.000 128.8V147.6"/><rect x="207.000" y="135.0" width="2.000" height="10.0" stroke="none" fill-opacity="0.72"/><rect x="206.500" y="134.5" width="3.000" height="11.0" fill="none" stroke-opacity="0.70"/></g>
<g class="g"><path d="M211.375 140.1V147.6"/><rect x="210.750" y="143.0" width="1.250" height="2.0" stroke="none" fill-opacity="0.93"/><rect x="210.250" y="142.5" width="2.250" height="3.0" fill="none" stroke-opacity="0.93"/></g>
<g class="r"><path d="M214.750 132.6V151.3"/><rect x="214.000" y="140.0" width="1.500" height="2.0" stroke="none" fill-opacity="0.86"/><rect x="213.500" y="139.5" width="2.500" height="3.0" fill="none" stroke-opacity="0.85"/></g>
<g class="g"><path d="M218.125 133.8V160.1"/><rect x="217.250" y="136.0" width="1.750" height="6.0" stroke="none" fill-opacity="0.79"/><rect x="216.750" y="135.5" width="2.750" height="7.0" fill="none" stroke-opacity="0.78"/></g>
<g class="g"><path d="M221.500 126.3V136.3"/><rect x="221.000" y="132.0" width="1.000" height="1.0" stroke="none"/><rect x="220.500" y="131.5" width="2.000" height="2.0" fill="none"/></g>
<g class="r"><path d="M224.875 124.5V145.1"/><rect x="224.000" y="129.0" width="1.750" height="14.0" stroke="none" fill-opacity="0.79"/><rect x="223.500" y="128.5" width="2.750" height="15.0" fill="none" stroke-opacity="0.78"/></g>
<g class="g"><path d="M228.250 129.5V149.6"/><rect x="227.500" y="135.0" width="1.500" height="10.0" stroke="none" fill-opacity="0.86"/><rect x="227.000" y="134.5" width="2.500" height="11.0" fill="none" stroke-opacity="0.85"/></g>
<g class="r"><path d="M231.625 131.3V150.6"/><rect x="231.000" y="134.0" width="1.250" height="12.0" stroke="none" fill-opacity="0.93"/><rect x="230.500" y="133.5" width="2.250" height="13.0" fill="none" stroke-opacity="0.93"/></g>
<g class="g"><path d="M235.000 130.0V162.1"/><path d="M233.500 140.5H236.500"/></g>
<g class="g"><path d="M238.375 125.5V140.1"/><rect x="237.750" y="134.0" width="1.250" height="2.0" stroke="none" fill-opacity="0.93"/><rect x="237.250" y="133.5" width="2.250" height="3.0" fill="none" stroke-opacity="0.93"/></g>
<g class="g"><path d="M241.750 127.5V139.6"/><rect x="241.000" y="129.0" width="1.500" height="6.0" stroke="none" fill-opacity="0.86"/><rect x="240.500" y="128.5" width="2.500" height="7.0" fill="none" stroke-opacity="0.85"/></g>
<g class="r"><path d="M245.125 123.0V137.6"/><rect x="244.250" y="129.0" width="1.750" height="2.0" stroke="none" fill-opacity="0.79"/><rect x="243.750" y="128.5" width="2.750" height="3.0" fill="none" stroke-opacity="0.78"/></g>
<g class="r"><path d="M248.500 132.1V150.6"/><rect x="248.000" y="134.0" width="1.000" height="5.0" stroke="none"/><rect x="247.500" y="133.5" width="2.000" height="6.0" fill="none"/></g>
<g class="r"><path d="M251.875 142.1V155.1"/><rect x="251.000" y="144.0" width="1.750" height="7.0" stroke="none" fill-opacity="0.79"/><rect x="250.500" y="143.5" width="2.750" height="8.0" fill="none" stroke-opacity="0.78"/></g>
<g class="r"><path d="M255.250 140.1V165.6"/><rect x="254.500" y="157.0" width="1.500" height="1.0" stroke="none" fill-opacity="0.86"/><rect x="254.000" y="156.5" width="2.500" height="2.0" fill="none" stroke-opacity="0.85"/></g>
<g class="g"><path d="M258.625 147.1V167.6"/><rect x="258.000" y="151.0" width="1.250" height="6.0" stroke="none" fill-opacity="0.93"/><rect x="257.500" y="150.5" width="2.250" height="7.0" fill="none" stroke-opacity="0.93"/></g>
<g class="g"><path d="M262.000 121.3V150.6"/><rect x="261.000" y="127.0" width="2.000" height="21.0" stroke="none" fill-opacity="0.72"/><rect x="260.500" y="126.5" width="3.000" height="22.0" fill="none" stroke-opacity="0.70"/></g>
<g class="r"><path d="M265.375 116.3V135.1"/><rect x="264.750" y="121.0" width="1.250" height="11.0" stroke="none" fill-opacity="0.93"/><rect x="264.250" y="120.5" width="2.250" height="12.0" fill="none" stroke-opacity="0.93"/></g>
<g class="r"><path d="M268.750 130.0V151.3"/><rect x="268.000" y="133.0" width="1.500" height="16.0" stroke="none" fill-opacity="0.86"/><rect x="267.500" y="132.5" width="2.500" height="17.0" fill="none" stroke-opacity="0.85"/></g>
<g class="r"><path d="M272.125 140.1V161.4"/><rect x="271.250" y="149.0" width="1.750" height="9.0" stroke="none" fill-opacity="0.79"/><rect x="270.750" y="148.5" width="2.750" height="10.0" fill="none" stroke-opacity="0.78"/></g>
<g class="r"><path d="M275.500 152.6V193.2"/><rect x="275.000" y="159.0" width="1.000" height="31.0" stroke="none"/><rect x="274.500" y="158.5" width="2.000" height="32.0" fill="none"/></g>
<g class="r"><path d="M278.875 188.9V210.2"/><rect x="278.000" y="193.0" width="1.750" height="8.0" stroke="none" fill-opacity="0.79"/><rect x="277.500" y="192.5" width="2.750" height="9.0" fill="none" stroke-opacity="0.78"/></g>
<g class="g"><path d="M282.250 188.9V207.2"/><rect x="281.500" y="193.0" width="1.500" height="12.0" stroke="none" fill-opacity="0.86"/><rect x="281.000" y="192.5" width="2.500" height="13.0" fill="none" stroke-opacity="0.85"/></g>
<g class="g"><path d="M285.625 172.1V192.7"/><rect x="285.000" y="177.0" width="1.250" height="11.0" stroke="none" fill-opacity="0.93"/><rect x="284.500" y="176.5" width="2.250" height="12.0" fill="none" stroke-opacity="0.93"/></g>
<g class="r"><path d="M289.000 166.4V178.9"/><rect x="288.000" y="174.0" width="2.000" height="1.0" stroke="none" fill-opacity="0.72"/><rect x="287.500" y="173.5" width="3.000" height="2.0" fill="none" stroke-opacity="0.70"/></g>
<g class="g"><path d="M292.375 143.1V178.9"/><rect x="291.750" y="151.0" width="1.250" height="26.0" stroke="none" fill-opacity="0.93"/><rect x="291.250" y="150.5" width="2.250" height="27.0" fill="none" stroke-opacity="0.93"/></g>
<g class="r"><path d="M295.750 142.6V155.1"/><path d="M294.250 145.5H297.250"/></g>
<g class="g"><path d="M299.125 132.1V148.1"/><rect x="298.250" y="142.0" width="1.750" height="1.0" stroke="none" fill-opacity="0.79"/><rect x="297.750" y="141.5" width="2.750" height="2.0" fill="none" stroke-opacity="0.78"/></g>
<g class="g"><path d="M302.500 136.3V150.6"/><path d="M301.000 141.5H304.000"/></g>
<g class="g"><path d="M305.875 133.8V150.1"/><rect x="305.000" y="143.0" width="1.750" height="4.0" stroke="none" fill-opacity="0.79"/><rect x="304.500" y="142.5" width="2.750" height="5.0" fill="none" stroke-opacity="0.78"/></g>
<g class="g"><path d="M309.250 124.5V152.1"/><rect x="308.500" y="128.0" width="1.500" height="17.0" stroke="none" fill-opacity="0.86"/><rect x="308.000" y="127.5" width="2.500" height="18.0" fill="none" stroke-opacity="0.85"/></g>
<g class="g"><path d="M312.625 113.8V132.6"/><rect x="312.000" y="117.0" width="1.250" height="7.0" stroke="none" fill-opacity="0.93"/><rect x="311.500" y="116.5" width="2.250" height="8.0" fill="none" stroke-opacity="0.93"/></g>
<g class="g"><path d="M316.000 106.3V118.9"/><rect x="315.000" y="110.0" width="2.000" height="4.0" stroke="none" fill-opacity="0.72"/><rect x="314.500" y="109.5" width="3.000" height="5.0" fill="none" stroke-opacity="0.70"/></g>
<g class="r"><path d="M319.375 103.1V119.7"/><rect x="318.750" y="111.0" width="1.250" height="3.0" stroke="none" fill-opacity="0.93"/><rect x="318.250" y="110.5" width="2.250" height="4.0" fill="none" stroke-opacity="0.93"/></g>
<g class="g"><path d="M322.750 103.9V119.7"/><rect x="322.000" y="106.0" width="1.500" height="11.0" stroke="none" fill-opacity="0.86"/><rect x="321.500" y="105.5" width="2.500" height="12.0" fill="none" stroke-opacity="0.85"/></g>
<g class="r"><path d="M326.125 101.4V118.9"/><rect x="325.250" y="105.0" width="1.750" height="8.0" stroke="none" fill-opacity="0.79"/><rect x="324.750" y="104.5" width="2.750" height="9.0" fill="none" stroke-opacity="0.78"/></g>
<g class="g"><path d="M329.500 105.0V121.4"/><path d="M328.000 113.5H331.000"/></g>
<g class="g"><path d="M332.875 102.6V118.2"/><rect x="332.000" y="105.0" width="1.750" height="8.0" stroke="none" fill-opacity="0.79"/><rect x="331.500" y="104.5" width="2.750" height="9.0" fill="none" stroke-opacity="0.78"/></g>
<g class="r"><path d="M336.250 92.6V111.4"/><path d="M334.750 104.5H337.750"/></g>
<g class="g"><path d="M339.625 82.1V107.7"/><rect x="339.000" y="86.0" width="1.250" height="20.0" stroke="none" fill-opacity="0.93"/><rect x="338.500" y="85.5" width="2.250" height="21.0" fill="none" stroke-opacity="0.93"/></g>
<g class="r"><path d="M343.000 73.8V95.1"/><rect x="342.000" y="84.0" width="2.000" height="7.0" stroke="none" fill-opacity="0.72"/><rect x="341.500" y="83.5" width="3.000" height="8.0" fill="none" stroke-opacity="0.70"/></g>
<g class="g"><path d="M346.375 77.6V95.6"/><rect x="345.750" y="79.0" width="1.250" height="7.0" stroke="none" fill-opacity="0.93"/><rect x="345.250" y="78.5" width="2.250" height="8.0" fill="none" stroke-opacity="0.93"/></g>
<g class="r"><path d="M349.750 71.3V88.9"/><rect x="349.000" y="84.0" width="1.500" height="2.0" stroke="none" fill-opacity="0.86"/><rect x="348.500" y="83.5" width="2.500" height="3.0" fill="none" stroke-opacity="0.85"/></g>
<g class="r"><path d="M353.125 85.1V98.9"/><rect x="352.250" y="88.0" width="1.750" height="8.0" stroke="none" fill-opacity="0.79"/><rect x="351.750" y="87.5" width="2.750" height="9.0" fill="none" stroke-opacity="0.78"/></g>
<g class="r"><path d="M356.500 95.1V108.9"/><rect x="356.000" y="99.0" width="1.000" height="7.0" stroke="none"/><rect x="355.500" y="98.5" width="2.000" height="8.0" fill="none"/></g>
<g class="g"><path d="M359.875 92.6V115.2"/><rect x="359.000" y="100.0" width="1.750" height="2.0" stroke="none" fill-opacity="0.79"/><rect x="358.500" y="99.5" width="2.750" height="3.0" fill="none" stroke-opacity="0.78"/></g>
<g class="g"><path d="M363.250 88.1V103.9"/><rect x="362.500" y="94.0" width="1.500" height="1.0" stroke="none" fill-opacity="0.86"/><rect x="362.000" y="93.5" width="2.500" height="2.0" fill="none" stroke-opacity="0.85"/></g>
<g class="r"><path d="M366.625 80.6V100.1"/><rect x="366.000" y="91.0" width="1.250" height="6.0" stroke="none" fill-opacity="0.93"/><rect x="365.500" y="90.5" width="2.250" height="7.0" fill="none" stroke-opacity="0.93"/></g>
<g class="r"><path d="M370.000 93.9V106.4"/><path d="M368.500 100.5H371.500"/></g>
<g class="r"><path d="M373.375 100.1V121.4"/><rect x="372.750" y="103.0" width="1.250" height="10.0" stroke="none" fill-opacity="0.93"/><rect x="372.250" y="102.5" width="2.250" height="11.0" fill="none" stroke-opacity="0.93"/></g>
<g class="g"><path d="M376.750 88.1V116.4"/><rect x="376.000" y="92.0" width="1.500" height="20.0" stroke="none" fill-opacity="0.86"/><rect x="375.500" y="91.5" width="2.500" height="21.0" fill="none" stroke-opacity="0.85"/></g>
<g class="r"><path d="M380.125 97.6V116.4"/><rect x="379.250" y="106.0" width="1.750" height="1.0" stroke="none" fill-opacity="0.79"/><rect x="378.750" y="105.5" width="2.750" height="2.0" fill="none" stroke-opacity="0.78"/></g>
<g class="r"><path d="M383.500 108.8V140.1"/><rect x="383.000" y="114.0" width="1.000" height="24.0" stroke="none"/><rect x="382.500" y="113.5" width="2.000" height="25.0" fill="none"/></g>
<g class="r"><path d="M386.875 133.8V151.3"/><rect x="386.000" y="137.0" width="1.750" height="13.0" stroke="none" fill-opacity="0.79"/><rect x="385.500" y="136.5" width="2.750" height="14.0" fill="none" stroke-opacity="0.78"/></g>
<g class="r"><path d="M390.250 137.6V165.1"/><rect x="389.500" y="144.0" width="1.500" height="14.0" stroke="none" fill-opacity="0.86"/><rect x="389.000" y="143.5" width="2.500" height="15.0" fill="none" stroke-opacity="0.85"/></g>
<g class="g"><path d="M393.625 142.6V157.6"/><rect x="393.000" y="152.0" width="1.250" height="1.0" stroke="none" fill-opacity="0.93"/><rect x="392.500" y="151.5" width="2.250" height="2.0" fill="none" stroke-opacity="0.93"/></g>
<g class="g"><path d="M397.000 141.3V168.9"/><rect x="396.000" y="143.0" width="2.000" height="9.0" stroke="none" fill-opacity="0.72"/><rect x="395.500" y="142.5" width="3.000" height="10.0" fill="none" stroke-opacity="0.70"/></g>
<g class="r"><path d="M400.375 140.0V167.6"/><rect x="399.750" y="143.0" width="1.250" height="17.0" stroke="none" fill-opacity="0.93"/><rect x="399.250" y="142.5" width="2.250" height="18.0" fill="none" stroke-opacity="0.93"/></g>
<g class="r"><path d="M403.750 150.1V177.6"/><rect x="403.000" y="156.0" width="1.500" height="16.0" stroke="none" fill-opacity="0.86"/><rect x="402.500" y="155.5" width="2.500" height="17.0" fill="none" stroke-opacity="0.85"/></g>
<g class="r"><path d="M407.125 168.9V187.1"/><rect x="406.250" y="171.0" width="1.750" height="14.0" stroke="none" fill-opacity="0.79"/><rect x="405.750" y="170.5" width="2.750" height="15.0" fill="none" stroke-opacity="0.78"/></g>
<g class="g"><path d="M410.500 140.0V178.9"/><rect x="410.000" y="148.0" width="1.000" height="30.0" stroke="none"/><rect x="409.500" y="147.5" width="2.000" height="31.0" fill="none"/></g>
<g class="r"><path d="M413.875 136.3V167.6"/><rect x="413.000" y="141.0" width="1.750" height="25.0" stroke="none" fill-opacity="0.79"/><rect x="412.500" y="140.5" width="2.750" height="26.0" fill="none" stroke-opacity="0.78"/></g>
<g class="r"><path d="M417.250 155.1V205.2"/><rect x="416.500" y="161.0" width="1.500" height="37.0" stroke="none" fill-opacity="0.86"/><rect x="416.000" y="160.5" width="2.500" height="38.0" fill="none" stroke-opacity="0.85"/></g>
<g class="r"><path d="M420.625 187.6V220.2"/><rect x="420.000" y="192.0" width="1.250" height="11.0" stroke="none" fill-opacity="0.93"/><rect x="419.500" y="191.5" width="2.250" height="12.0" fill="none" stroke-opacity="0.93"/></g>
<g class="r"><path d="M424.000 187.6V212.7"/><rect x="423.000" y="196.0" width="2.000" height="6.0" stroke="none" fill-opacity="0.72"/><rect x="422.500" y="195.5" width="3.000" height="7.0" fill="none" stroke-opacity="0.70"/></g>
<g class="g"><path d="M427.375 172.1V209.7"/><rect x="426.750" y="179.0" width="1.250" height="28.0" stroke="none" fill-opacity="0.93"/><rect x="426.250" y="178.5" width="2.250" height="29.0" fill="none" stroke-opacity="0.93"/></g>
<g class="g"><path d="M430.750 165.1V185.1"/><rect x="430.000" y="169.0" width="1.500" height="6.0" stroke="none" fill-opacity="0.86"/><rect x="429.500" y="168.5" width="2.500" height="7.0" fill="none" stroke-opacity="0.85"/></g>
<g class="g"><path d="M434.125 158.1V171.4"/><rect x="433.250" y="161.0" width="1.750" height="7.0" stroke="none" fill-opacity="0.79"/><rect x="432.750" y="160.5" width="2.750" height="8.0" fill="none" stroke-opacity="0.78"/></g>
<g class="g"><path d="M437.500 122.0V162.1"/><rect x="437.000" y="124.0" width="1.000" height="33.0" stroke="none"/><rect x="436.500" y="123.5" width="2.000" height="34.0" fill="none"/></g>
<g class="r"><path d="M440.875 122.0V145.1"/><rect x="440.000" y="127.0" width="1.750" height="15.0" stroke="none" fill-opacity="0.79"/><rect x="439.500" y="126.5" width="2.750" height="16.0" fill="none" stroke-opacity="0.78"/></g>
<g class="r"><path d="M444.250 135.0V160.1"/><rect x="443.500" y="140.0" width="1.500" height="18.0" stroke="none" fill-opacity="0.86"/><rect x="443.000" y="139.5" width="2.500" height="19.0" fill="none" stroke-opacity="0.85"/></g>
<g class="g"><path d="M447.625 140.0V158.8"/><rect x="447.000" y="146.0" width="1.250" height="5.0" stroke="none" fill-opacity="0.93"/><rect x="446.500" y="145.5" width="2.250" height="6.0" fill="none" stroke-opacity="0.93"/></g>
<g class="r"><path d="M451.000 159.6V186.4"/><rect x="450.000" y="161.0" width="2.000" height="14.0" stroke="none" fill-opacity="0.72"/><rect x="449.500" y="160.5" width="3.000" height="15.0" fill="none" stroke-opacity="0.70"/></g>
<g class="r"><path d="M454.375 173.9V198.9"/><rect x="453.750" y="176.0" width="1.250" height="20.0" stroke="none" fill-opacity="0.93"/><rect x="453.250" y="175.5" width="2.250" height="21.0" fill="none" stroke-opacity="0.93"/></g>
<g class="r"><path d="M457.750 189.6V208.9"/><rect x="457.000" y="197.0" width="1.500" height="5.0" stroke="none" fill-opacity="0.86"/><rect x="456.500" y="196.5" width="2.500" height="6.0" fill="none" stroke-opacity="0.85"/></g>
<g class="r"><path d="M461.125 191.4V222.7"/><rect x="460.250" y="205.0" width="1.750" height="12.0" stroke="none" fill-opacity="0.79"/><rect x="459.750" y="204.5" width="2.750" height="13.0" fill="none" stroke-opacity="0.78"/></g>
<g class="g"><path d="M464.500 200.2V220.2"/><rect x="464.000" y="206.0" width="1.000" height="11.0" stroke="none"/><rect x="463.500" y="205.5" width="2.000" height="12.0" fill="none"/></g>
<g class="g"><path d="M467.875 182.1V206.4"/><rect x="467.000" y="184.0" width="1.750" height="20.0" stroke="none" fill-opacity="0.79"/><rect x="466.500" y="183.5" width="2.750" height="21.0" fill="none" stroke-opacity="0.78"/></g>
<g class="g"><path d="M471.250 152.1V180.6"/><rect x="470.500" y="154.0" width="1.500" height="25.0" stroke="none" fill-opacity="0.86"/><rect x="470.000" y="153.5" width="2.500" height="26.0" fill="none" stroke-opacity="0.85"/></g>
<g class="r"><path d="M474.625 153.8V177.6"/><rect x="474.000" y="158.0" width="1.250" height="17.0" stroke="none" fill-opacity="0.93"/><rect x="473.500" y="157.5" width="2.250" height="18.0" fill="none" stroke-opacity="0.93"/></g>
<g class="r"><path d="M478.000 172.1V195.2"/><rect x="477.000" y="175.0" width="2.000" height="11.0" stroke="none" fill-opacity="0.72"/><rect x="476.500" y="174.5" width="3.000" height="12.0" fill="none" stroke-opacity="0.70"/></g>
<g class="g"><path d="M481.375 160.6V192.6"/><rect x="480.750" y="172.0" width="1.250" height="15.0" stroke="none" fill-opacity="0.93"/><rect x="480.250" y="171.5" width="2.250" height="16.0" fill="none" stroke-opacity="0.93"/></g>
<g class="r"><path d="M484.750 163.8V200.2"/><rect x="484.000" y="172.0" width="1.500" height="25.0" stroke="none" fill-opacity="0.86"/><rect x="483.500" y="171.5" width="2.500" height="26.0" fill="none" stroke-opacity="0.85"/></g>
<g class="r"><path d="M488.125 187.6V237.6"/><rect x="487.250" y="199.0" width="1.750" height="36.0" stroke="none" fill-opacity="0.79"/><rect x="486.750" y="198.5" width="2.750" height="37.0" fill="none" stroke-opacity="0.78"/></g>
<g class="r"><path d="M491.500 223.8V253.9"/><rect x="491.000" y="238.0" width="1.000" height="10.0" stroke="none"/><rect x="490.500" y="237.5" width="2.000" height="11.0" fill="none"/></g>
<g class="r"><path d="M494.875 230.1V255.1"/><path d="M493.375 248.5H496.375"/></g>
<g class="r"><path d="M498.250 237.6V272.6"/><rect x="497.500" y="249.0" width="1.500" height="17.0" stroke="none" fill-opacity="0.86"/><rect x="497.000" y="248.5" width="2.500" height="18.0" fill="none" stroke-opacity="0.85"/></g>
<g class="g"><path d="M501.625 251.3V270.1"/><rect x="501.000" y="256.0" width="1.250" height="5.0" stroke="none" fill-opacity="0.93"/><rect x="500.500" y="255.5" width="2.250" height="6.0" fill="none" stroke-opacity="0.93"/></g>
<g class="r"><path d="M505.000 250.1V293.9"/><rect x="504.000" y="254.0" width="2.000" height="33.0" stroke="none" fill-opacity="0.72"/><rect x="503.500" y="253.5" width="3.000" height="34.0" fill="none" stroke-opacity="0.70"/></g>
<g class="g"><path d="M508.375 263.9V290.2"/><rect x="507.750" y="271.0" width="1.250" height="11.0" stroke="none" fill-opacity="0.93"/><rect x="507.250" y="270.5" width="2.250" height="12.0" fill="none" stroke-opacity="0.93"/></g>
<g class="g"><path d="M511.750 242.6V271.4"/><rect x="511.000" y="252.0" width="1.500" height="18.0" stroke="none" fill-opacity="0.86"/><rect x="510.500" y="251.5" width="2.500" height="19.0" fill="none" stroke-opacity="0.85"/></g>
<g class="r"><path d="M515.125 236.3V257.1"/><rect x="514.250" y="249.0" width="1.750" height="6.0" stroke="none" fill-opacity="0.79"/><rect x="513.750" y="248.5" width="2.750" height="7.0" fill="none" stroke-opacity="0.78"/></g>
<g class="g"><path d="M518.500 232.1V255.6"/><rect x="518.000" y="240.0" width="1.000" height="8.0" stroke="none"/><rect x="517.500" y="239.5" width="2.000" height="9.0" fill="none"/></g>
<g class="g"><path d="M521.875 217.5V243.8"/><rect x="521.000" y="226.0" width="1.750" height="7.0" stroke="none" fill-opacity="0.79"/><rect x="520.500" y="225.5" width="2.750" height="8.0" fill="none" stroke-opacity="0.78"/></g>
<g class="r"><path d="M525.250 236.3V255.1"/><path d="M523.750 240.5H526.750"/></g>
<g class="g"><path d="M528.625 222.5V250.1"/><rect x="528.000" y="228.0" width="1.250" height="20.0" stroke="none" fill-opacity="0.93"/><rect x="527.500" y="227.5" width="2.250" height="21.0" fill="none" stroke-opacity="0.93"/></g>
<g class="r"><path d="M532.000 223.0V236.3"/><rect x="531.000" y="225.0" width="2.000" height="9.0" stroke="none" fill-opacity="0.72"/><rect x="530.500" y="224.5" width="3.000" height="10.0" fill="none" stroke-opacity="0.70"/></g>
<g class="r"><path d="M535.375 218.8V245.1"/><rect x="534.750" y="225.0" width="1.250" height="10.0" stroke="none" fill-opacity="0.93"/><rect x="534.250" y="224.5" width="2.250" height="11.0" fill="none" stroke-opacity="0.93"/></g>
<g class="g"><path d="M538.750 212.0V233.8"/><rect x="538.000" y="224.0" width="1.500" height="6.0" stroke="none" fill-opacity="0.86"/><rect x="537.500" y="223.5" width="2.500" height="7.0" fill="none" stroke-opacity="0.85"/></g>
<g class="r"><path d="M542.125 220.0V248.1"/><rect x="541.250" y="223.0" width="1.750" height="19.0" stroke="none" fill-opacity="0.79"/><rect x="540.750" y="222.5" width="2.750" height="20.0" fill="none" stroke-opacity="0.78"/></g>
<g class="r"><path d="M545.500 239.6V274.6"/><rect x="545.000" y="242.0" width="1.000" height="24.0" stroke="none"/><rect x="544.500" y="241.5" width="2.000" height="25.0" fill="none"/></g>
<g class="g"><path d="M548.875 255.6V273.1"/><rect x="548.000" y="261.0" width="1.750" height="7.0" stroke="none" fill-opacity="0.79"/><rect x="547.500" y="260.5" width="2.750" height="8.0" fill="none" stroke-opacity="0.78"/></g>
<g class="r"><path d="M552.250 248.8V267.1"/><rect x="551.500" y="257.0" width="1.500" height="4.0" stroke="none" fill-opacity="0.86"/><rect x="551.000" y="256.5" width="2.500" height="5.0" fill="none" stroke-opacity="0.85"/></g>
<g class="g"><path d="M555.625 217.5V281.4"/><rect x="555.000" y="242.0" width="1.250" height="15.0" stroke="none" fill-opacity="0.93"/><rect x="554.500" y="241.5" width="2.250" height="16.0" fill="none" stroke-opacity="0.93"/></g>
<g class="r"><path d="M559.000 211.3V241.3"/><rect x="558.000" y="231.0" width="2.000" height="7.0" stroke="none" fill-opacity="0.72"/><rect x="557.500" y="230.5" width="3.000" height="8.0" fill="none" stroke-opacity="0.70"/></g>
<g class="g"><path d="M562.375 192.6V232.6"/><rect x="561.750" y="198.0" width="1.250" height="30.0" stroke="none" fill-opacity="0.93"/><rect x="561.250" y="197.5" width="2.250" height="31.0" fill="none" stroke-opacity="0.93"/></g>
<g class="g"><path d="M565.750 175.1V198.9"/><rect x="565.000" y="190.0" width="1.500" height="3.0" stroke="none" fill-opacity="0.86"/><rect x="564.500" y="189.5" width="2.500" height="4.0" fill="none" stroke-opacity="0.85"/></g>
<g class="g"><path d="M569.125 155.1V196.4"/><rect x="568.250" y="157.0" width="1.750" height="30.0" stroke="none" fill-opacity="0.79"/><rect x="567.750" y="156.5" width="2.750" height="31.0" fill="none" stroke-opacity="0.78"/></g>
<g class="r"><path d="M572.500 142.1V208.2"/><rect x="572.000" y="155.0" width="1.000" height="42.0" stroke="none"/><rect x="571.500" y="154.5" width="2.000" height="43.0" fill="none"/></g>
<g class="r"><path d="M575.875 188.9V220.7"/><rect x="575.000" y="196.0" width="1.750" height="5.0" stroke="none" fill-opacity="0.79"/><rect x="574.500" y="195.5" width="2.750" height="6.0" fill="none" stroke-opacity="0.78"/></g>
<g class="g"><path d="M579.250 168.1V201.4"/><rect x="578.500" y="173.0" width="1.500" height="27.0" stroke="none" fill-opacity="0.86"/><rect x="578.000" y="172.5" width="2.500" height="28.0" fill="none" stroke-opacity="0.85"/></g>
<g class="r"><path d="M582.625 170.1V190.1"/><rect x="582.000" y="174.0" width="1.250" height="1.0" stroke="none" fill-opacity="0.93"/><rect x="581.500" y="173.5" width="2.250" height="2.0" fill="none" stroke-opacity="0.93"/></g>
<g class="r"><path d="M586.000 180.1V217.7"/><rect x="585.000" y="182.0" width="2.000" height="12.0" stroke="none" fill-opacity="0.72"/><rect x="584.500" y="181.5" width="3.000" height="13.0" fill="none" stroke-opacity="0.70"/></g>
<g class="r"><path d="M589.375 215.5V242.6"/><rect x="588.750" y="223.0" width="1.250" height="10.0" stroke="none" fill-opacity="0.93"/><rect x="588.250" y="222.5" width="2.250" height="11.0" fill="none" stroke-opacity="0.93"/></g>
<g class="r"><path d="M592.750 224.5V243.1"/><rect x="592.000" y="230.0" width="1.500" height="4.0" stroke="none" fill-opacity="0.86"/><rect x="591.500" y="229.5" width="2.500" height="5.0" fill="none" stroke-opacity="0.85"/></g>
<g class="r"><path d="M596.125 226.3V246.3"/><rect x="595.250" y="233.0" width="1.750" height="0.0" stroke="none" fill-opacity="0.79"/><rect x="594.750" y="232.5" width="2.750" height="1.0" fill="none" stroke-opacity="0.78"/></g>
<g class="r"><path d="M599.500 232.6V261.4"/><rect x="599.000" y="239.0" width="1.000" height="14.0" stroke="none"/><rect x="598.500" y="238.5" width="2.000" height="15.0" fill="none"/></g>
<g class="g"><path d="M602.875 236.3V258.1"/><rect x="602.000" y="239.0" width="1.750" height="13.0" stroke="none" fill-opacity="0.79"/><rect x="601.500" y="238.5" width="2.750" height="14.0" fill="none" stroke-opacity="0.78"/></g>
<g class="g"><path d="M606.250 215.5V246.3"/><rect x="605.500" y="221.0" width="1.500" height="18.0" stroke="none" fill-opacity="0.86"/><rect x="605.000" y="220.5" width="2.500" height="19.0" fill="none" stroke-opacity="0.85"/></g>
<g class="r"><path d="M609.625 221.3V235.1"/><rect x="609.000" y="225.0" width="1.250" height="5.0" stroke="none" fill-opacity="0.93"/><rect x="608.500" y="224.5" width="2.250" height="6.0" fill="none" stroke-opacity="0.93"/></g>
<g class="r"><path d="M613.000 213.8V242.1"/><rect x="612.000" y="229.0" width="2.000" height="8.0" stroke="none" fill-opacity="0.72"/><rect x="611.500" y="228.5" width="3.000" height="9.0" fill="none" stroke-opacity="0.70"/></g>
<g class="g"><path d="M616.375 217.0V240.1"/><rect x="615.750" y="219.0" width="1.250" height="17.0" stroke="none" fill-opacity="0.93"/><rect x="615.250" y="218.5" width="2.250" height="18.0" fill="none" stroke-opacity="0.93"/></g>
<g class="r"><path d="M619.750 251.3V274.6"/><rect x="619.000" y="252.0" width="1.500" height="16.0" stroke="none" fill-opacity="0.86"/><rect x="618.500" y="251.5" width="2.500" height="17.0" fill="none" stroke-opacity="0.85"/></g>
<g class="r"><path d="M623.125 257.1V276.4"/><rect x="622.250" y="263.0" width="1.750" height="8.0" stroke="none" fill-opacity="0.79"/><rect x="621.750" y="262.5" width="2.750" height="9.0" fill="none" stroke-opacity="0.78"/></g>
<g class="g"><path d="M626.500 248.8V271.4"/><rect x="626.000" y="257.0" width="1.000" height="11.0" stroke="none"/><rect x="625.500" y="256.5" width="2.000" height="12.0" fill="none"/></g>
<g class="g"><path d="M629.875 230.1V258.9"/><path d="M628.375 248.5H631.375"/></g>
<g class="r"><path d="M633.250 223.8V247.6"/><rect x="632.500" y="235.0" width="1.500" height="10.0" stroke="none" fill-opacity="0.86"/><rect x="632.000" y="234.5" width="2.500" height="11.0" fill="none" stroke-opacity="0.85"/></g>
<g class="g"><path d="M636.625 219.5V237.6"/><rect x="636.000" y="224.0" width="1.250" height="12.0" stroke="none" fill-opacity="0.93"/><rect x="635.500" y="223.5" width="2.250" height="13.0" fill="none" stroke-opacity="0.93"/></g>
<g class="g"><path d="M640.000 208.8V223.8"/><rect x="639.000" y="218.0" width="2.000" height="2.0" stroke="none" fill-opacity="0.72"/><rect x="638.500" y="217.5" width="3.000" height="3.0" fill="none" stroke-opacity="0.70"/></g>
<g class="r"><path d="M643.375 210.0V242.1"/><rect x="642.750" y="218.0" width="1.250" height="1.0" stroke="none" fill-opacity="0.93"/><rect x="642.250" y="217.5" width="2.250" height="2.0" fill="none" stroke-opacity="0.93"/></g>
<g class="g"><path d="M646.750 206.3V226.3"/><rect x="646.000" y="213.0" width="1.500" height="4.0" stroke="none" fill-opacity="0.86"/><rect x="645.500" y="212.5" width="2.500" height="5.0" fill="none" stroke-opacity="0.85"/></g>
<g class="r"><path d="M650.125 213.8V239.6"/><rect x="649.250" y="215.0" width="1.750" height="20.0" stroke="none" fill-opacity="0.79"/><rect x="648.750" y="214.5" width="2.750" height="21.0" fill="none" stroke-opacity="0.78"/></g>
<g class="r"><path d="M653.500 232.6V263.1"/><rect x="653.000" y="237.0" width="1.000" height="24.0" stroke="none"/><rect x="652.500" y="236.5" width="2.000" height="25.0" fill="none"/></g>
<g class="r"><path d="M656.875 250.1V265.6"/><rect x="656.000" y="261.0" width="1.750" height="1.0" stroke="none" fill-opacity="0.79"/><rect x="655.500" y="260.5" width="2.750" height="2.0" fill="none" stroke-opacity="0.78"/></g>
<g class="g"><path d="M660.250 252.6V273.9"/><rect x="659.500" y="259.0" width="1.500" height="2.0" stroke="none" fill-opacity="0.86"/><rect x="659.000" y="258.5" width="2.500" height="3.0" fill="none" stroke-opacity="0.85"/></g>
<g class="g"><path d="M663.625 247.1V262.6"/><rect x="663.000" y="256.0" width="1.250" height="4.0" stroke="none" fill-opacity="0.93"/><rect x="662.500" y="255.5" width="2.250" height="5.0" fill="none" stroke-opacity="0.93"/></g>
<g class="r"><path d="M667.000 253.9V275.1"/><rect x="666.000" y="256.0" width="2.000" height="17.0" stroke="none" fill-opacity="0.72"/><rect x="665.500" y="255.5" width="3.000" height="18.0" fill="none" stroke-opacity="0.70"/></g>
<g class="g"><path d="M670.375 246.3V278.9"/><rect x="669.750" y="249.0" width="1.250" height="28.0" stroke="none" fill-opacity="0.93"/><rect x="669.250" y="248.5" width="2.250" height="29.0" fill="none" stroke-opacity="0.93"/></g>
<g class="g"><path d="M673.750 242.6V256.4"/><path d="M672.250 249.5H675.250"/></g>
<g class="r"><path d="M677.125 246.3V255.6"/><rect x="676.250" y="249.0" width="1.750" height="5.0" stroke="none" fill-opacity="0.79"/><rect x="675.750" y="248.5" width="2.750" height="6.0" fill="none" stroke-opacity="0.78"/></g>
<g class="g"><path d="M680.500 235.1V251.3"/><rect x="680.000" y="239.0" width="1.000" height="11.0" stroke="none"/><rect x="679.500" y="238.5" width="2.000" height="12.0" fill="none"/></g>
<g class="g"><path d="M683.875 222.0V251.3"/><rect x="683.000" y="225.0" width="1.750" height="12.0" stroke="none" fill-opacity="0.79"/><rect x="682.500" y="224.5" width="2.750" height="13.0" fill="none" stroke-opacity="0.78"/></g>
<g class="r"><path d="M687.250 222.0V252.6"/><rect x="686.500" y="224.0" width="1.500" height="27.0" stroke="none" fill-opacity="0.86"/><rect x="686.000" y="223.5" width="2.500" height="28.0" fill="none" stroke-opacity="0.85"/></g>
<g class="r"><path d="M690.625 236.3V262.6"/><rect x="690.000" y="251.0" width="1.250" height="2.0" stroke="none" fill-opacity="0.93"/><rect x="689.500" y="250.5" width="2.250" height="3.0" fill="none" stroke-opacity="0.93"/></g>
<g class="r"><path d="M694.000 248.8V260.1"/><rect x="693.000" y="253.0" width="2.000" height="0.0" stroke="none" fill-opacity="0.72"/><rect x="692.500" y="252.5" width="3.000" height="1.0" fill="none" stroke-opacity="0.70"/></g>
<g class="r"><path d="M697.375 243.8V263.9"/><rect x="696.750" y="254.0" width="1.250" height="7.0" stroke="none" fill-opacity="0.93"/><rect x="696.250" y="253.5" width="2.250" height="8.0" fill="none" stroke-opacity="0.93"/></g>
<g class="g"><path d="M700.750 250.1V265.6"/><rect x="700.000" y="259.0" width="1.500" height="3.0" stroke="none" fill-opacity="0.86"/><rect x="699.500" y="258.5" width="2.500" height="4.0" fill="none" stroke-opacity="0.85"/></g>
<g class="g"><path d="M704.125 236.3V262.1"/><rect x="703.250" y="241.0" width="1.750" height="19.0" stroke="none" fill-opacity="0.79"/><rect x="702.750" y="240.5" width="2.750" height="20.0" fill="none" stroke-opacity="0.78"/></g>
<g class="r"><path d="M707.500 232.6V258.9"/><rect x="707.000" y="241.0" width="1.000" height="15.0" stroke="none"/><rect x="706.500" y="240.5" width="2.000" height="16.0" fill="none"/></g>
<g class="r"><path d="M710.875 248.8V262.6"/><rect x="710.000" y="257.0" width="1.750" height="1.0" stroke="none" fill-opacity="0.79"/><rect x="709.500" y="256.5" width="2.750" height="2.0" fill="none" stroke-opacity="0.78"/></g>
<g class="r"><path d="M714.250 257.1V274.6"/><rect x="713.500" y="259.0" width="1.500" height="12.0" stroke="none" fill-opacity="0.86"/><rect x="713.000" y="258.5" width="2.500" height="13.0" fill="none" stroke-opacity="0.85"/></g>
<g class="g"><path d="M717.625 252.6V273.9"/><rect x="717.000" y="259.0" width="1.250" height="13.0" stroke="none" fill-opacity="0.93"/><rect x="716.500" y="258.5" width="2.250" height="14.0" fill="none" stroke-opacity="0.93"/></g>
<g class="g"><path d="M721.000 250.1V265.6"/><rect x="720.000" y="258.0" width="2.000" height="1.0" stroke="none" fill-opacity="0.72"/><rect x="719.500" y="257.5" width="3.000" height="2.0" fill="none" stroke-opacity="0.70"/></g>
<g class="g"><path d="M724.375 232.6V258.1"/><rect x="723.750" y="237.0" width="1.250" height="19.0" stroke="none" fill-opacity="0.93"/><rect x="723.250" y="236.5" width="2.250" height="20.0" fill="none" stroke-opacity="0.93"/></g>
<g class="r"><path d="M727.750 231.3V250.1"/><rect x="727.000" y="236.0" width="1.500" height="2.0" stroke="none" fill-opacity="0.86"/><rect x="726.500" y="235.5" width="2.500" height="3.0" fill="none" stroke-opacity="0.85"/></g>
<g class="g"><path d="M731.125 223.0V239.6"/><rect x="730.250" y="225.0" width="1.750" height="12.0" stroke="none" fill-opacity="0.79"/><rect x="729.750" y="224.5" width="2.750" height="13.0" fill="none" stroke-opacity="0.78"/></g>
<g class="r"><path d="M734.500 222.5V235.1"/><rect x="734.000" y="224.0" width="1.000" height="6.0" stroke="none"/><rect x="733.500" y="223.5" width="2.000" height="7.0" fill="none"/></g>
<g class="r"><path d="M737.875 232.6V253.1"/><rect x="737.000" y="237.0" width="1.750" height="5.0" stroke="none" fill-opacity="0.79"/><rect x="736.500" y="236.5" width="2.750" height="6.0" fill="none" stroke-opacity="0.78"/></g>
<g class="g"><path d="M741.250 230.1V246.3"/><path d="M739.750 240.5H742.750"/></g>
<g class="r"><path d="M744.625 233.8V250.1"/><rect x="744.000" y="245.0" width="1.250" height="1.0" stroke="none" fill-opacity="0.93"/><rect x="743.500" y="244.5" width="2.250" height="2.0" fill="none" stroke-opacity="0.93"/></g>
<g class="g"><path d="M748.000 241.3V257.6"/><rect x="747.000" y="247.0" width="2.000" height="1.0" stroke="none" fill-opacity="0.72"/><rect x="746.500" y="246.5" width="3.000" height="2.0" fill="none" stroke-opacity="0.70"/></g>
<g class="r"><path d="M751.375 240.1V255.6"/><path d="M749.875 247.5H752.875"/></g>
<g class="g"><path d="M754.750 237.6V246.3"/><rect x="754.000" y="239.0" width="1.500" height="5.0" stroke="none" fill-opacity="0.86"/><rect x="753.500" y="238.5" width="2.500" height="6.0" fill="none" stroke-opacity="0.85"/></g>
<g class="r"><path d="M758.125 231.3V247.1"/><rect x="757.250" y="239.0" width="1.750" height="5.0" stroke="none" fill-opacity="0.79"/><rect x="756.750" y="238.5" width="2.750" height="6.0" fill="none" stroke-opacity="0.78"/></g>
<g class="g"><path d="M761.500 230.1V243.8"/><rect x="761.000" y="234.0" width="1.000" height="8.0" stroke="none"/><rect x="760.500" y="233.5" width="2.000" height="9.0" fill="none"/></g>
<g class="g"><path d="M764.875 222.5V237.6"/><rect x="764.000" y="230.0" width="1.750" height="3.0" stroke="none" fill-opacity="0.79"/><rect x="763.500" y="229.5" width="2.750" height="4.0" fill="none" stroke-opacity="0.78"/></g>
<g class="g"><path d="M768.250 216.3V231.3"/><rect x="767.500" y="221.0" width="1.500" height="6.0" stroke="none" fill-opacity="0.86"/><rect x="767.000" y="220.5" width="2.500" height="7.0" fill="none" stroke-opacity="0.85"/></g>
<g class="g"><path d="M771.625 196.4V221.2"/><rect x="771.000" y="204.0" width="1.250" height="14.0" stroke="none" fill-opacity="0.93"/><rect x="770.500" y="203.5" width="2.250" height="15.0" fill="none" stroke-opacity="0.93"/></g>
<g class="g"><path d="M775.000 188.9V208.2"/><rect x="774.000" y="195.0" width="2.000" height="8.0" stroke="none" fill-opacity="0.72"/><rect x="773.500" y="194.5" width="3.000" height="9.0" fill="none" stroke-opacity="0.70"/></g>
<g class="r"><path d="M778.375 181.4V202.7"/><rect x="777.750" y="194.0" width="1.250" height="3.0" stroke="none" fill-opacity="0.93"/><rect x="777.250" y="193.5" width="2.250" height="4.0" fill="none" stroke-opacity="0.93"/></g>
<g class="g"><path d="M781.750 185.1V203.9"/><rect x="781.000" y="191.0" width="1.500" height="10.0" stroke="none" fill-opacity="0.86"/><rect x="780.500" y="190.5" width="2.500" height="11.0" fill="none" stroke-opacity="0.85"/></g>
<g class="r"><path d="M785.125 178.1V202.7"/><rect x="784.250" y="188.0" width="1.750" height="13.0" stroke="none" fill-opacity="0.79"/><rect x="783.750" y="187.5" width="2.750" height="14.0" fill="none" stroke-opacity="0.78"/></g>
<g class="g"><path d="M788.500 189.6V207.7"/><rect x="788.000" y="195.0" width="1.000" height="6.0" stroke="none"/><rect x="787.500" y="194.5" width="2.000" height="7.0" fill="none"/></g>
<g class="g"><path d="M791.875 148.8V192.7"/><rect x="791.000" y="164.0" width="1.750" height="26.0" stroke="none" fill-opacity="0.79"/><rect x="790.500" y="163.5" width="2.750" height="27.0" fill="none" stroke-opacity="0.78"/></g>
<g class="g"><path d="M795.250 132.0V163.9"/><rect x="794.500" y="138.0" width="1.500" height="24.0" stroke="none" fill-opacity="0.86"/><rect x="794.000" y="137.5" width="2.500" height="25.0" fill="none" stroke-opacity="0.85"/></g>
<g class="r"><path d="M798.625 133.8V153.8"/><rect x="798.000" y="139.0" width="1.250" height="13.0" stroke="none" fill-opacity="0.93"/><rect x="797.500" y="138.5" width="2.250" height="14.0" fill="none" stroke-opacity="0.93"/></g>
<g class="g"><path d="M802.000 115.0V155.1"/><rect x="801.000" y="124.0" width="2.000" height="22.0" stroke="none" fill-opacity="0.72"/><rect x="800.500" y="123.5" width="3.000" height="23.0" fill="none" stroke-opacity="0.70"/></g>
<g class="r"><path d="M805.375 117.5V147.6"/><rect x="804.750" y="121.0" width="1.250" height="17.0" stroke="none" fill-opacity="0.93"/><rect x="804.250" y="120.5" width="2.250" height="18.0" fill="none" stroke-opacity="0.93"/></g>
<g class="r"><path d="M808.750 141.3V156.3"/><rect x="808.000" y="149.0" width="1.500" height="4.0" stroke="none" fill-opacity="0.86"/><rect x="807.500" y="148.5" width="2.500" height="5.0" fill="none" stroke-opacity="0.85"/></g>
<g class="r"><path d="M812.125 148.8V181.4"/><rect x="811.250" y="153.0" width="1.750" height="19.0" stroke="none" fill-opacity="0.79"/><rect x="810.750" y="152.5" width="2.750" height="20.0" fill="none" stroke-opacity="0.78"/></g>
<g class="r"><path d="M815.500 165.1V177.6"/><rect x="815.000" y="172.0" width="1.000" height="4.0" stroke="none"/><rect x="814.500" y="171.5" width="2.000" height="5.0" fill="none"/></g>
<g class="r"><path d="M818.875 170.1V191.4"/><rect x="818.000" y="178.0" width="1.750" height="7.0" stroke="none" fill-opacity="0.79"/><rect x="817.500" y="177.5" width="2.750" height="8.0" fill="none" stroke-opacity="0.78"/></g>
<g class="g"><path d="M822.250 178.9V192.7"/><rect x="821.500" y="187.0" width="1.500" height="1.0" stroke="none" fill-opacity="0.86"/><rect x="821.000" y="186.5" width="2.500" height="2.0" fill="none" stroke-opacity="0.85"/></g>
<g class="r"><path d="M825.625 180.6V211.4"/><rect x="825.000" y="188.0" width="1.250" height="14.0" stroke="none" fill-opacity="0.93"/><rect x="824.500" y="187.5" width="2.250" height="15.0" fill="none" stroke-opacity="0.93"/></g>
<g class="g"><path d="M829.000 189.6V206.4"/><rect x="828.000" y="197.0" width="2.000" height="5.0" stroke="none" fill-opacity="0.72"/><rect x="827.500" y="196.5" width="3.000" height="6.0" fill="none" stroke-opacity="0.70"/></g>
<g class="r"><path d="M832.375 192.2V212.7"/><rect x="831.750" y="194.0" width="1.250" height="14.0" stroke="none" fill-opacity="0.93"/><rect x="831.250" y="193.5" width="2.250" height="15.0" fill="none" stroke-opacity="0.93"/></g>
<g class="r"><path d="M835.750 195.2V215.2"/><rect x="835.000" y="206.0" width="1.500" height="1.0" stroke="none" fill-opacity="0.86"/><rect x="834.500" y="205.5" width="2.500" height="2.0" fill="none" stroke-opacity="0.85"/></g>
<g class="r"><path d="M839.125 195.2V217.2"/><rect x="838.250" y="204.0" width="1.750" height="6.0" stroke="none" fill-opacity="0.79"/><rect x="837.750" y="203.5" width="2.750" height="7.0" fill="none" stroke-opacity="0.78"/></g>
<g class="r"><path d="M842.500 178.9V217.7"/><rect x="842.000" y="192.0" width="1.000" height="10.0" stroke="none"/><rect x="841.500" y="191.5" width="2.000" height="11.0" fill="none"/></g>
<g class="g"><path d="M845.875 200.0V231.3"/><rect x="845.000" y="209.0" width="1.750" height="3.0" stroke="none" fill-opacity="0.79"/><rect x="844.500" y="208.5" width="2.750" height="4.0" fill="none" stroke-opacity="0.78"/></g>
<g class="r"><path d="M849.250 204.5V229.6"/><rect x="848.500" y="208.0" width="1.500" height="19.0" stroke="none" fill-opacity="0.86"/><rect x="848.000" y="207.5" width="2.500" height="20.0" fill="none" stroke-opacity="0.85"/></g>
<g class="r"><path d="M852.625 218.8V233.8"/><rect x="852.000" y="228.0" width="1.250" height="4.0" stroke="none" fill-opacity="0.93"/><rect x="851.500" y="227.5" width="2.250" height="5.0" fill="none" stroke-opacity="0.93"/></g>
<g class="g"><path d="M856.000 222.5V233.8"/><rect x="855.000" y="228.0" width="2.000" height="4.0" stroke="none" fill-opacity="0.72"/><rect x="854.500" y="227.5" width="3.000" height="5.0" fill="none" stroke-opacity="0.70"/></g>
<g class="g"><path d="M859.375 210.0V229.6"/><rect x="858.750" y="213.0" width="1.250" height="15.0" stroke="none" fill-opacity="0.93"/><rect x="858.250" y="212.5" width="2.250" height="16.0" fill="none" stroke-opacity="0.93"/></g>
<g class="g"><path d="M862.750 197.2V212.7"/><rect x="862.000" y="203.0" width="1.500" height="7.0" stroke="none" fill-opacity="0.86"/><rect x="861.500" y="202.5" width="2.500" height="8.0" fill="none" stroke-opacity="0.85"/></g>
<g class="r"><path d="M866.125 202.5V226.3"/><rect x="865.250" y="204.0" width="1.750" height="19.0" stroke="none" fill-opacity="0.79"/><rect x="864.750" y="203.5" width="2.750" height="20.0" fill="none" stroke-opacity="0.78"/></g>
<g class="r"><path d="M869.500 221.3V236.3"/><path d="M868.000 223.5H871.000"/></g>
<g class="r"><path d="M872.875 216.3V232.1"/><rect x="872.000" y="223.0" width="1.750" height="7.0" stroke="none" fill-opacity="0.79"/><rect x="871.500" y="222.5" width="2.750" height="8.0" fill="none" stroke-opacity="0.78"/></g>
<g class="g"><path d="M876.250 216.3V237.1"/><rect x="875.500" y="218.0" width="1.500" height="13.0" stroke="none" fill-opacity="0.86"/><rect x="875.000" y="217.5" width="2.500" height="14.0" fill="none" stroke-opacity="0.85"/></g>
<g class="g"><path d="M879.625 206.3V221.2"/><rect x="879.000" y="216.0" width="1.250" height="2.0" stroke="none" fill-opacity="0.93"/><rect x="878.500" y="215.5" width="2.250" height="3.0" fill="none" stroke-opacity="0.93"/></g>
<g class="g"><path d="M883.000 203.0V221.2"/><rect x="882.000" y="211.0" width="2.000" height="3.0" stroke="none" fill-opacity="0.72"/><rect x="881.500" y="210.5" width="3.000" height="4.0" fill="none" stroke-opacity="0.70"/></g>
<g class="r"><path d="M886.375 208.0V236.3"/><rect x="885.750" y="211.0" width="1.250" height="22.0" stroke="none" fill-opacity="0.93"/><rect x="885.250" y="210.5" width="2.250" height="23.0" fill="none" stroke-opacity="0.93"/></g>
<g class="g"><path d="M889.750 230.1V242.6"/><rect x="889.000" y="232.0" width="1.500" height="9.0" stroke="none" fill-opacity="0.86"/><rect x="888.500" y="231.5" width="2.500" height="10.0" fill="none" stroke-opacity="0.85"/></g>
<g class="r"><path d="M893.125 225.0V253.9"/><rect x="892.250" y="229.0" width="1.750" height="22.0" stroke="none" fill-opacity="0.79"/><rect x="891.750" y="228.5" width="2.750" height="23.0" fill="none" stroke-opacity="0.78"/></g>
<g class="r"><path d="M896.500 248.8V258.9"/><rect x="896.000" y="251.0" width="1.000" height="2.0" stroke="none"/><rect x="895.500" y="250.5" width="2.000" height="3.0" fill="none"/></g>
<g class="g"><path d="M899.875 232.6V255.6"/><rect x="899.000" y="235.0" width="1.750" height="18.0" stroke="none" fill-opacity="0.79"/><rect x="898.500" y="234.5" width="2.750" height="19.0" fill="none" stroke-opacity="0.78"/></g>
<g class="r"><path d="M903.250 235.1V250.1"/><rect x="902.500" y="238.0" width="1.500" height="3.0" stroke="none" fill-opacity="0.86"/><rect x="902.000" y="237.5" width="2.500" height="4.0" fill="none" stroke-opacity="0.85"/></g>
<g class="r"><path d="M906.625 232.6V262.6"/><rect x="906.000" y="240.0" width="1.250" height="17.0" stroke="none" fill-opacity="0.93"/><rect x="905.500" y="239.5" width="2.250" height="18.0" fill="none" stroke-opacity="0.93"/></g>
<g class="r"><path d="M910.000 256.4V276.4"/><rect x="909.000" y="258.0" width="2.000" height="1.0" stroke="none" fill-opacity="0.72"/><rect x="908.500" y="257.5" width="3.000" height="2.0" fill="none" stroke-opacity="0.70"/></g>
<g class="r"><path d="M913.375 259.6V294.7"/><rect x="912.750" y="261.0" width="1.250" height="21.0" stroke="none" fill-opacity="0.93"/><rect x="912.250" y="260.5" width="2.250" height="22.0" fill="none" stroke-opacity="0.93"/></g>
<g class="r"><path d="M916.750 274.6V290.2"/><path d="M915.250 282.5H918.250"/></g>
<g class="g"><path d="M920.125 260.1V285.2"/><rect x="919.250" y="274.0" width="1.750" height="8.0" stroke="none" fill-opacity="0.79"/><rect x="918.750" y="273.5" width="2.750" height="9.0" fill="none" stroke-opacity="0.78"/></g>
<g class="r"><path d="M923.500 267.1V287.7"/><rect x="923.000" y="273.0" width="1.000" height="12.0" stroke="none"/><rect x="922.500" y="272.5" width="2.000" height="13.0" fill="none"/></g>
<g class="g"><path d="M926.875 272.6V293.9"/><rect x="926.000" y="284.0" width="1.750" height="1.0" stroke="none" fill-opacity="0.79"/><rect x="925.500" y="283.5" width="2.750" height="2.0" fill="none" stroke-opacity="0.78"/></g>
<g class="g"><path d="M930.250 264.6V283.9"/><rect x="929.500" y="268.0" width="1.500" height="14.0" stroke="none" fill-opacity="0.86"/><rect x="929.000" y="267.5" width="2.500" height="15.0" fill="none" stroke-opacity="0.85"/></g>
<g class="r"><path d="M933.625 263.1V281.4"/><rect x="933.000" y="266.0" width="1.250" height="12.0" stroke="none" fill-opacity="0.93"/><rect x="932.500" y="265.5" width="2.250" height="13.0" fill="none" stroke-opacity="0.93"/></g>
<g class="g"><path d="M937.000 271.4V278.9"/><rect x="936.000" y="274.0" width="2.000" height="2.0" stroke="none" fill-opacity="0.72"/><rect x="935.500" y="273.5" width="3.000" height="3.0" fill="none" stroke-opacity="0.70"/></g>
<g class="g"><path d="M940.375 258.1V271.4"/><path d="M938.875 268.5H941.875"/></g>
<g class="r"><path d="M943.750 257.1V280.2"/><rect x="943.000" y="272.0" width="1.500" height="4.0" stroke="none" fill-opacity="0.86"/><rect x="942.500" y="271.5" width="2.500" height="5.0" fill="none" stroke-opacity="0.85"/></g>
<g class="g"><path d="M947.125 273.9V284.7"/><rect x="946.250" y="276.0" width="1.750" height="2.0" stroke="none" fill-opacity="0.79"/><rect x="945.750" y="275.5" width="2.750" height="3.0" fill="none" stroke-opacity="0.78"/></g>
<g class="g"><path d="M950.500 257.6V276.4"/><rect x="950.000" y="263.0" width="1.000" height="10.0" stroke="none"/><rect x="949.500" y="262.5" width="2.000" height="11.0" fill="none"/></g>
<g class="r"><path d="M953.875 255.6V266.4"/><path d="M952.375 259.5H955.375"/></g>
<g class="g"><path d="M957.250 247.6V263.9"/><rect x="956.500" y="251.0" width="1.500" height="7.0" stroke="none" fill-opacity="0.86"/><rect x="956.000" y="250.5" width="2.500" height="8.0" fill="none" stroke-opacity="0.85"/></g>
<g class="r"><path d="M960.625 246.3V256.4"/><rect x="960.000" y="249.0" width="1.250" height="2.0" stroke="none" fill-opacity="0.93"/><rect x="959.500" y="248.5" width="2.250" height="3.0" fill="none" stroke-opacity="0.93"/></g>
<g class="g"><path d="M964.000 236.3V250.1"/><rect x="963.000" y="244.0" width="2.000" height="4.0" stroke="none" fill-opacity="0.72"/><rect x="962.500" y="243.5" width="3.000" height="5.0" fill="none" stroke-opacity="0.70"/></g>
<g class="r"><path d="M967.375 238.8V248.8"/><path d="M965.875 240.5H968.875"/></g>
<g class="r"><path d="M970.750 238.8V252.1"/><rect x="970.000" y="242.0" width="1.500" height="5.0" stroke="none" fill-opacity="0.86"/><rect x="969.500" y="241.5" width="2.500" height="6.0" fill="none" stroke-opacity="0.85"/></g>
<g class="g"><path d="M974.125 218.0V253.1"/><rect x="973.250" y="223.0" width="1.750" height="23.0" stroke="none" fill-opacity="0.79"/><rect x="972.750" y="222.5" width="2.750" height="24.0" fill="none" stroke-opacity="0.78"/></g>
<g class="r"><path d="M977.500 215.0V227.6"/><rect x="977.000" y="224.0" width="1.000" height="1.0" stroke="none"/><rect x="976.500" y="223.5" width="2.000" height="2.0" fill="none"/></g>
<g class="g"><path d="M980.875 213.0V233.8"/><rect x="980.000" y="221.0" width="1.750" height="4.0" stroke="none" fill-opacity="0.79"/><rect x="979.500" y="220.5" width="2.750" height="5.0" fill="none" stroke-opacity="0.78"/></g>
<g class="r"><path d="M984.250 233.8V285.7"/><rect x="983.500" y="236.0" width="1.500" height="38.0" stroke="none" fill-opacity="0.86"/><rect x="983.000" y="235.5" width="2.500" height="39.0" fill="none" stroke-opacity="0.85"/></g>
<g class="r"><path d="M987.625 275.1V350.1"/><rect x="987.000" y="278.0" width="1.250" height="54.0" stroke="none" fill-opacity="0.93"/><rect x="986.500" y="277.5" width="2.250" height="55.0" fill="none" stroke-opacity="0.93"/></g>
<g class="r"><path d="M991.000 310.0V366.4"/><rect x="990.000" y="343.0" width="2.000" height="3.0" stroke="none" fill-opacity="0.72"/><rect x="989.500" y="342.5" width="3.000" height="4.0" fill="none" stroke-opacity="0.70"/></g>
<g class="r"><path d="M994.375 335.1V378.9"/><rect x="993.750" y="344.0" width="1.250" height="16.0" stroke="none" fill-opacity="0.93"/><rect x="993.250" y="343.5" width="2.250" height="17.0" fill="none" stroke-opacity="0.93"/></g>
<g class="g"><path d="M997.750 320.0V412.7"/><rect x="997.000" y="328.0" width="1.500" height="46.0" stroke="none" fill-opacity="0.86"/><rect x="996.500" y="327.5" width="2.500" height="47.0" fill="none" stroke-opacity="0.85"/></g>
<g class="r"><path d="M1001.125 317.0V370.1"/><rect x="1000.250" y="325.0" width="1.750" height="28.0" stroke="none" fill-opacity="0.79"/><rect x="999.750" y="324.5" width="2.750" height="29.0" fill="none" stroke-opacity="0.78"/></g>
<g class="g"><path d="M1004.500 333.8V361.4"/><rect x="1004.000" y="339.0" width="1.000" height="14.0" stroke="none"/><rect x="1003.500" y="338.5" width="2.000" height="15.0" fill="none"/></g>
<g class="r"><path d="M1007.875 330.1V346.3"/><path d="M1006.375 336.5H1009.375"/></g>
<g class="r"><path d="M1011.250 323.8V345.1"/><rect x="1010.500" y="338.0" width="1.500" height="0.0" stroke="none" fill-opacity="0.86"/><rect x="1010.000" y="337.5" width="2.500" height="1.0" fill="none" stroke-opacity="0.85"/></g>
<g class="g"><path d="M1014.625 321.3V350.1"/><rect x="1014.000" y="327.0" width="1.250" height="10.0" stroke="none" fill-opacity="0.93"/><rect x="1013.500" y="326.5" width="2.250" height="11.0" fill="none" stroke-opacity="0.93"/></g>
<g class="g"><path d="M1018.000 299.5V326.3"/><rect x="1017.000" y="301.0" width="2.000" height="24.0" stroke="none" fill-opacity="0.72"/><rect x="1016.500" y="300.5" width="3.000" height="25.0" fill="none" stroke-opacity="0.70"/></g>
<g class="r"><path d="M1021.375 312.0V333.8"/><rect x="1020.750" y="314.0" width="1.250" height="13.0" stroke="none" fill-opacity="0.93"/><rect x="1020.250" y="313.5" width="2.250" height="14.0" fill="none" stroke-opacity="0.93"/></g>
<g class="g"><path d="M1024.750 305.0V323.8"/><rect x="1024.000" y="314.0" width="1.500" height="8.0" stroke="none" fill-opacity="0.86"/><rect x="1023.500" y="313.5" width="2.500" height="9.0" fill="none" stroke-opacity="0.85"/></g>
<g class="r"><path d="M1028.125 298.8V337.6"/><rect x="1027.250" y="309.0" width="1.750" height="19.0" stroke="none" fill-opacity="0.79"/><rect x="1026.750" y="308.5" width="2.750" height="20.0" fill="none" stroke-opacity="0.78"/></g>
<g class="g"><path d="M1031.500 317.5V332.1"/><rect x="1031.000" y="324.0" width="1.000" height="4.0" stroke="none"/><rect x="1030.500" y="323.5" width="2.000" height="5.0" fill="none"/></g>
<g class="g"><path d="M1034.875 315.0V333.8"/><path d="M1033.375 321.5H1036.375"/></g>
<g class="r"><path d="M1038.250 310.0V337.1"/><rect x="1037.500" y="316.0" width="1.500" height="14.0" stroke="none" fill-opacity="0.86"/><rect x="1037.000" y="315.5" width="2.500" height="15.0" fill="none" stroke-opacity="0.85"/></g>
<g class="r"><path d="M1041.625 331.3V353.1"/><rect x="1041.000" y="333.0" width="1.250" height="16.0" stroke="none" fill-opacity="0.93"/><rect x="1040.500" y="332.5" width="2.250" height="17.0" fill="none" stroke-opacity="0.93"/></g>
<g class="r"><path d="M1045.000 350.1V378.9"/><rect x="1044.000" y="354.0" width="2.000" height="22.0" stroke="none" fill-opacity="0.72"/><rect x="1043.500" y="353.5" width="3.000" height="23.0" fill="none" stroke-opacity="0.70"/></g>
<g class="g"><path d="M1048.375 361.4V397.2"/><rect x="1047.750" y="364.0" width="1.250" height="11.0" stroke="none" fill-opacity="0.93"/><rect x="1047.250" y="363.5" width="2.250" height="12.0" fill="none" stroke-opacity="0.93"/></g>
<g class="r"><path d="M1051.750 357.1V381.4"/><rect x="1051.000" y="368.0" width="1.500" height="6.0" stroke="none" fill-opacity="0.86"/><rect x="1050.500" y="367.5" width="2.500" height="7.0" fill="none" stroke-opacity="0.85"/></g>
<g class="g"><path d="M1055.125 382.2V409.7"/><rect x="1054.250" y="389.0" width="1.750" height="3.0" stroke="none" fill-opacity="0.79"/><rect x="1053.750" y="388.5" width="2.750" height="4.0" fill="none" stroke-opacity="0.78"/></g>
<g class="g"><path d="M1058.500 357.1V389.7"/><rect x="1058.000" y="367.0" width="1.000" height="20.0" stroke="none"/><rect x="1057.500" y="366.5" width="2.000" height="21.0" fill="none"/></g>
<g class="r"><path d="M1061.875 352.6V378.9"/><rect x="1061.000" y="368.0" width="1.750" height="9.0" stroke="none" fill-opacity="0.79"/><rect x="1060.500" y="367.5" width="2.750" height="10.0" fill="none" stroke-opacity="0.78"/></g>
<g class="g"><path d="M1065.250 353.1V381.4"/><rect x="1064.500" y="357.0" width="1.500" height="21.0" stroke="none" fill-opacity="0.86"/><rect x="1064.000" y="356.5" width="2.500" height="22.0" fill="none" stroke-opacity="0.85"/></g>
<g class="g"><path d="M1068.625 338.8V357.1"/><rect x="1068.000" y="344.0" width="1.250" height="8.0" stroke="none" fill-opacity="0.93"/><rect x="1067.500" y="343.5" width="2.250" height="9.0" fill="none" stroke-opacity="0.93"/></g>
<g class="g"><path d="M1072.000 331.3V343.8"/><rect x="1071.000" y="334.0" width="2.000" height="4.0" stroke="none" fill-opacity="0.72"/><rect x="1070.500" y="333.5" width="3.000" height="5.0" fill="none" stroke-opacity="0.70"/></g>
<g class="g"><path d="M1075.375 310.0V336.3"/><rect x="1074.750" y="314.0" width="1.250" height="18.0" stroke="none" fill-opacity="0.93"/><rect x="1074.250" y="313.5" width="2.250" height="19.0" fill="none" stroke-opacity="0.93"/></g>
<g class="r"><path d="M1078.750 312.5V322.6"/><rect x="1078.000" y="314.0" width="1.500" height="4.0" stroke="none" fill-opacity="0.86"/><rect x="1077.500" y="313.5" width="2.500" height="5.0" fill="none" stroke-opacity="0.85"/></g>
<g class="r"><path d="M1082.125 320.0V350.1"/><rect x="1081.250" y="323.0" width="1.750" height="13.0" stroke="none" fill-opacity="0.79"/><rect x="1080.750" y="322.5" width="2.750" height="14.0" fill="none" stroke-opacity="0.78"/></g>
<g class="g"><path d="M1085.500 330.1V347.1"/><rect x="1085.000" y="333.0" width="1.000" height="8.0" stroke="none"/><rect x="1084.500" y="332.5" width="2.000" height="9.0" fill="none"/></g>
<g class="g"><path d="M1088.875 324.6V343.8"/><path d="M1087.375 331.5H1090.375"/></g>
<g class="r"><path d="M1092.250 325.6V340.1"/><path d="M1090.750 330.5H1093.750"/></g>
<g class="r"><path d="M1095.625 306.3V340.1"/><rect x="1095.000" y="329.0" width="1.250" height="7.0" stroke="none" fill-opacity="0.93"/><rect x="1094.500" y="328.5" width="2.250" height="8.0" fill="none" stroke-opacity="0.93"/></g>
<g class="r"><path d="M1099.000 336.3V352.1"/><path d="M1097.500 340.5H1100.500"/></g>
<g class="g"><path d="M1102.375 333.8V354.6"/><rect x="1101.750" y="339.0" width="1.250" height="6.0" stroke="none" fill-opacity="0.93"/><rect x="1101.250" y="338.5" width="2.250" height="7.0" fill="none" stroke-opacity="0.93"/></g>
<g class="r"><path d="M1105.750 331.3V352.6"/><rect x="1105.000" y="337.0" width="1.500" height="7.0" stroke="none" fill-opacity="0.86"/><rect x="1104.500" y="336.5" width="2.500" height="8.0" fill="none" stroke-opacity="0.85"/></g>
<g class="g"><path d="M1109.125 325.6V345.1"/><rect x="1108.250" y="334.0" width="1.750" height="9.0" stroke="none" fill-opacity="0.79"/><rect x="1107.750" y="333.5" width="2.750" height="10.0" fill="none" stroke-opacity="0.78"/></g>
<g class="r"><path d="M1112.500 320.0V348.9"/><rect x="1112.000" y="334.0" width="1.000" height="10.0" stroke="none"/><rect x="1111.500" y="333.5" width="2.000" height="11.0" fill="none"/></g>
<g class="r"><path d="M1115.875 336.3V358.1"/><path d="M1114.375 345.5H1117.375"/></g>
<g class="g"><path d="M1119.250 311.3V343.8"/><rect x="1118.500" y="327.0" width="1.500" height="15.0" stroke="none" fill-opacity="0.86"/><rect x="1118.000" y="326.5" width="2.500" height="16.0" fill="none" stroke-opacity="0.85"/></g>
<g class="g"><path d="M1122.625 311.3V327.6"/><rect x="1122.000" y="316.0" width="1.250" height="4.0" stroke="none" fill-opacity="0.93"/><rect x="1121.500" y="315.5" width="2.250" height="5.0" fill="none" stroke-opacity="0.93"/></g>
<g class="r"><path d="M1126.000 310.0V330.1"/><rect x="1125.000" y="318.0" width="2.000" height="3.0" stroke="none" fill-opacity="0.72"/><rect x="1124.500" y="317.5" width="3.000" height="4.0" fill="none" stroke-opacity="0.70"/></g>
<g class="g"><path d="M1129.375 310.0V326.3"/><rect x="1128.750" y="317.0" width="1.250" height="5.0" stroke="none" fill-opacity="0.93"/><rect x="1128.250" y="316.5" width="2.250" height="6.0" fill="none" stroke-opacity="0.93"/></g>
<g class="g"><path d="M1132.750 298.9V322.7"/><rect x="1132.000" y="302.0" width="1.500" height="14.0" stroke="none" fill-opacity="0.86"/><rect x="1131.500" y="301.5" width="2.500" height="15.0" fill="none" stroke-opacity="0.85"/></g>
<g class="g"><path d="M1136.125 292.7V307.7"/><rect x="1135.250" y="294.0" width="1.750" height="5.0" stroke="none" fill-opacity="0.79"/><rect x="1134.750" y="293.5" width="2.750" height="6.0" fill="none" stroke-opacity="0.78"/></g>
<g class="r"><path d="M1139.500 283.1V302.7"/><rect x="1139.000" y="293.0" width="1.000" height="3.0" stroke="none"/><rect x="1138.500" y="292.5" width="2.000" height="4.0" fill="none"/></g>
<g class="g"><path d="M1142.875 257.6V301.4"/><rect x="1142.000" y="262.0" width="1.750" height="38.0" stroke="none" fill-opacity="0.79"/><rect x="1141.500" y="261.5" width="2.750" height="39.0" fill="none" stroke-opacity="0.78"/></g>
<g class="r"><path d="M1146.250 247.6V277.6"/><rect x="1145.500" y="252.0" width="1.500" height="10.0" stroke="none" fill-opacity="0.86"/><rect x="1145.000" y="251.5" width="2.500" height="11.0" fill="none" stroke-opacity="0.85"/></g>
<g class="g"><path d="M1149.625 151.3V256.4"/><rect x="1149.000" y="206.0" width="1.250" height="46.0" stroke="none" fill-opacity="0.93"/><rect x="1148.500" y="205.5" width="2.250" height="47.0" fill="none" stroke-opacity="0.93"/></g>
<g class="r"><path d="M1153.000 153.0V246.3"/><rect x="1152.000" y="163.0" width="2.000" height="80.0" stroke="none" fill-opacity="0.72"/><rect x="1151.500" y="162.5" width="3.000" height="81.0" fill="none" stroke-opacity="0.70"/></g>
<g class="g"><path d="M1156.375 195.1V244.6"/><rect x="1155.750" y="201.0" width="1.250" height="41.0" stroke="none" fill-opacity="0.93"/><rect x="1155.250" y="200.5" width="2.250" height="42.0" fill="none" stroke-opacity="0.93"/></g>
<g class="r"><path d="M1159.750 190.1V223.9"/><rect x="1159.000" y="195.0" width="1.500" height="5.0" stroke="none" fill-opacity="0.86"/><rect x="1158.500" y="194.5" width="2.500" height="6.0" fill="none" stroke-opacity="0.85"/></g>
<g class="g"><path d="M1163.125 173.8V212.7"/><rect x="1162.250" y="196.0" width="1.750" height="7.0" stroke="none" fill-opacity="0.79"/><rect x="1161.750" y="195.5" width="2.750" height="8.0" fill="none" stroke-opacity="0.78"/></g>
<g class="r"><path d="M1166.500 142.0V278.9"/><rect x="1166.000" y="147.0" width="1.000" height="109.0" stroke="none"/><rect x="1165.500" y="146.5" width="2.000" height="110.0" fill="none"/></g>
<g class="r"><path d="M1169.875 263.8V311.2"/><rect x="1169.000" y="266.0" width="1.750" height="39.0" stroke="none" fill-opacity="0.79"/><rect x="1168.500" y="265.5" width="2.750" height="40.0" fill="none" stroke-opacity="0.78"/></g>
<g class="r"><path d="M1173.250 286.4V302.6"/><rect x="1172.500" y="297.0" width="1.500" height="1.0" stroke="none" fill-opacity="0.86"/><rect x="1172.000" y="296.5" width="2.500" height="2.0" fill="none" stroke-opacity="0.85"/></g>
<g class="g"><path d="M1176.625 282.1V301.4"/><path d="M1175.125 296.5H1178.125"/></g>
<g class="g"><path d="M1180.000 285.1V299.6"/><path d="M1178.500 292.5H1181.500"/></g>
<g class="r"><path d="M1183.375 288.9V302.6"/><path d="M1181.875 296.5H1184.875"/></g>
<g class="g"><path d="M1186.750 286.4V301.4"/><rect x="1186.000" y="294.0" width="1.500" height="4.0" stroke="none" fill-opacity="0.86"/><rect x="1185.500" y="293.5" width="2.500" height="5.0" fill="none" stroke-opacity="0.85"/></g>
<g class="g"><path d="M1190.125 268.1V293.1"/><rect x="1189.250" y="270.0" width="1.750" height="20.0" stroke="none" fill-opacity="0.79"/><rect x="1188.750" y="269.5" width="2.750" height="21.0" fill="none" stroke-opacity="0.78"/></g>
<g class="r"><path d="M1193.500 268.1V279.6"/><rect x="1193.000" y="269.0" width="1.000" height="4.0" stroke="none"/><rect x="1192.500" y="268.5" width="2.000" height="5.0" fill="none"/></g>
<g class="g"><path d="M1196.875 258.8V293.1"/><rect x="1196.000" y="264.0" width="1.750" height="8.0" stroke="none" fill-opacity="0.79"/><rect x="1195.500" y="263.5" width="2.750" height="9.0" fill="none" stroke-opacity="0.78"/></g>
<g class="g"><path d="M1200.250 252.1V266.3"/><rect x="1199.500" y="259.0" width="1.500" height="4.0" stroke="none" fill-opacity="0.86"/><rect x="1199.000" y="258.5" width="2.500" height="5.0" fill="none" stroke-opacity="0.85"/></g>
<g class="g"><path d="M1203.625 252.1V265.1"/><rect x="1203.000" y="258.0" width="1.250" height="1.0" stroke="none" fill-opacity="0.93"/><rect x="1202.500" y="257.5" width="2.250" height="2.0" fill="none" stroke-opacity="0.93"/></g>
<g class="r"><path d="M1207.000 256.3V280.1"/><rect x="1206.000" y="259.0" width="2.000" height="19.0" stroke="none" fill-opacity="0.72"/><rect x="1205.500" y="258.5" width="3.000" height="20.0" fill="none" stroke-opacity="0.70"/></g>
<g class="g"><path d="M1210.375 253.8V276.3"/><rect x="1209.750" y="258.0" width="1.250" height="17.0" stroke="none" fill-opacity="0.93"/><rect x="1209.250" y="257.5" width="2.250" height="18.0" fill="none" stroke-opacity="0.93"/></g>
<g class="r"><path d="M1213.750 243.0V276.3"/><rect x="1213.000" y="255.0" width="1.500" height="20.0" stroke="none" fill-opacity="0.86"/><rect x="1212.500" y="254.5" width="2.500" height="21.0" fill="none" stroke-opacity="0.85"/></g>
<g class="r"><path d="M1217.125 272.6V283.9"/><rect x="1216.250" y="277.0" width="1.750" height="2.0" stroke="none" fill-opacity="0.79"/><rect x="1215.750" y="276.5" width="2.750" height="3.0" fill="none" stroke-opacity="0.78"/></g>
<g class="r"><path d="M1220.500 273.8V292.6"/><rect x="1220.000" y="278.0" width="1.000" height="3.0" stroke="none"/><rect x="1219.500" y="277.5" width="2.000" height="4.0" fill="none"/></g>
<g class="g"><path d="M1223.875 266.3V281.4"/><rect x="1223.000" y="269.0" width="1.750" height="9.0" stroke="none" fill-opacity="0.79"/><rect x="1222.500" y="268.5" width="2.750" height="10.0" fill="none" stroke-opacity="0.78"/></g>
<g class="r"><path d="M1227.250 268.8V286.4"/><path d="M1225.750 283.5H1228.750"/></g>
<g class="r"><path d="M1230.625 280.6V289.6"/><path d="M1229.125 285.5H1232.125"/></g>
<g class="r"><path d="M1234.000 287.1V298.9"/><rect x="1233.000" y="289.0" width="2.000" height="4.0" stroke="none" fill-opacity="0.72"/><rect x="1232.500" y="288.5" width="3.000" height="5.0" fill="none" stroke-opacity="0.70"/></g>
<g class="r"><path d="M1237.375 288.9V300.6"/><rect x="1236.750" y="293.0" width="1.250" height="0.0" stroke="none" fill-opacity="0.93"/><rect x="1236.250" y="292.5" width="2.250" height="1.0" fill="none" stroke-opacity="0.93"/></g>
<g class="g"><path d="M1240.750 282.1V293.9"/><rect x="1240.000" y="287.0" width="1.500" height="5.0" stroke="none" fill-opacity="0.86"/><rect x="1239.500" y="286.5" width="2.500" height="6.0" fill="none" stroke-opacity="0.85"/></g>
<g class="r"><path d="M1244.125 277.1V296.4"/><rect x="1243.250" y="285.0" width="1.750" height="8.0" stroke="none" fill-opacity="0.79"/><rect x="1242.750" y="284.5" width="2.750" height="9.0" fill="none" stroke-opacity="0.78"/></g>
<g class="g"><path d="M1247.500 272.6V297.1"/><rect x="1247.000" y="279.0" width="1.000" height="16.0" stroke="none"/><rect x="1246.500" y="278.5" width="2.000" height="17.0" fill="none"/></g>
<g class="g"><path d="M1250.875 247.5V278.9"/><rect x="1250.000" y="249.0" width="1.750" height="24.0" stroke="none" fill-opacity="0.79"/><rect x="1249.500" y="248.5" width="2.750" height="25.0" fill="none" stroke-opacity="0.78"/></g>
<g class="g"><path d="M1254.250 233.0V256.3"/><rect x="1253.500" y="241.0" width="1.500" height="6.0" stroke="none" fill-opacity="0.86"/><rect x="1253.000" y="240.5" width="2.500" height="7.0" fill="none" stroke-opacity="0.85"/></g>
<g class="r"><path d="M1257.625 233.9V256.3"/><rect x="1257.000" y="237.0" width="1.250" height="10.0" stroke="none" fill-opacity="0.93"/><rect x="1256.500" y="236.5" width="2.250" height="11.0" fill="none" stroke-opacity="0.93"/></g>
<g class="r"><path d="M1261.000 245.0V273.8"/><rect x="1260.000" y="248.0" width="2.000" height="22.0" stroke="none" fill-opacity="0.72"/><rect x="1259.500" y="247.5" width="3.000" height="23.0" fill="none" stroke-opacity="0.70"/></g>
<g class="r"><path d="M1264.375 266.3V289.6"/><rect x="1263.750" y="277.0" width="1.250" height="5.0" stroke="none" fill-opacity="0.93"/><rect x="1263.250" y="276.5" width="2.250" height="6.0" fill="none" stroke-opacity="0.93"/></g>
<g class="r"><path d="M1267.750 281.4V297.1"/><rect x="1267.000" y="284.0" width="1.500" height="11.0" stroke="none" fill-opacity="0.86"/><rect x="1266.500" y="283.5" width="2.500" height="12.0" fill="none" stroke-opacity="0.85"/></g>
<g class="r"><path d="M1271.125 277.1V312.7"/><rect x="1270.250" y="297.0" width="1.750" height="7.0" stroke="none" fill-opacity="0.79"/><rect x="1269.750" y="296.5" width="2.750" height="8.0" fill="none" stroke-opacity="0.78"/></g>
<g class="r"><path d="M1274.500 297.6V312.7"/><rect x="1274.000" y="304.0" width="1.000" height="6.0" stroke="none"/><rect x="1273.500" y="303.5" width="2.000" height="7.0" fill="none"/></g>
<g class="g"><path d="M1277.875 301.3V323.9"/><path d="M1276.375 310.5H1279.375"/></g>
<g class="g"><path d="M1281.250 303.8V321.3"/><rect x="1280.500" y="309.0" width="1.500" height="4.0" stroke="none" fill-opacity="0.86"/><rect x="1280.000" y="308.5" width="2.500" height="5.0" fill="none" stroke-opacity="0.85"/></g>
<g class="r"><path d="M1284.625 305.7V321.4"/><rect x="1284.000" y="309.0" width="1.250" height="9.0" stroke="none" fill-opacity="0.93"/><rect x="1283.500" y="308.5" width="2.250" height="10.0" fill="none" stroke-opacity="0.93"/></g>
<g class="r"><path d="M1288.000 315.2V332.7"/><rect x="1287.000" y="320.0" width="2.000" height="4.0" stroke="none" fill-opacity="0.72"/><rect x="1286.500" y="319.5" width="3.000" height="5.0" fill="none" stroke-opacity="0.70"/></g>
<g class="g"><path d="M1291.375 307.2V323.9"/><rect x="1290.750" y="310.0" width="1.250" height="12.0" stroke="none" fill-opacity="0.93"/><rect x="1290.250" y="309.5" width="2.250" height="13.0" fill="none" stroke-opacity="0.93"/></g>
<g class="r"><path d="M1294.750 307.5V324.7"/><rect x="1294.000" y="310.0" width="1.500" height="12.0" stroke="none" fill-opacity="0.86"/><rect x="1293.500" y="309.5" width="2.500" height="13.0" fill="none" stroke-opacity="0.85"/></g>
<g class="g"><path d="M1298.125 321.3V338.8"/><rect x="1297.250" y="324.0" width="1.750" height="5.0" stroke="none" fill-opacity="0.79"/><rect x="1296.750" y="323.5" width="2.750" height="6.0" fill="none" stroke-opacity="0.78"/></g>
<g class="r"><path d="M1301.500 323.8V336.3"/><rect x="1301.000" y="326.0" width="1.000" height="8.0" stroke="none"/><rect x="1300.500" y="325.5" width="2.000" height="9.0" fill="none"/></g>
<g class="g"><path d="M1304.875 321.3V335.1"/><rect x="1304.000" y="325.0" width="1.750" height="8.0" stroke="none" fill-opacity="0.79"/><rect x="1303.500" y="324.5" width="2.750" height="9.0" fill="none" stroke-opacity="0.78"/></g>
<g class="g"><path d="M1308.250 313.2V325.2"/><rect x="1307.500" y="315.0" width="1.500" height="6.0" stroke="none" fill-opacity="0.86"/><rect x="1307.000" y="314.5" width="2.500" height="7.0" fill="none" stroke-opacity="0.85"/></g>
<g class="g"><path d="M1311.625 310.0V317.2"/><rect x="1311.000" y="313.0" width="1.250" height="1.0" stroke="none" fill-opacity="0.93"/><rect x="1310.500" y="312.5" width="2.250" height="2.0" fill="none" stroke-opacity="0.93"/></g>
<g class="g"><path d="M1315.000 296.4V313.2"/><rect x="1314.000" y="300.0" width="2.000" height="10.0" stroke="none" fill-opacity="0.72"/><rect x="1313.500" y="299.5" width="3.000" height="11.0" fill="none" stroke-opacity="0.70"/></g>
<g class="r"><path d="M1318.375 299.6V318.8"/><rect x="1317.750" y="302.0" width="1.250" height="15.0" stroke="none" fill-opacity="0.93"/><rect x="1317.250" y="301.5" width="2.250" height="16.0" fill="none" stroke-opacity="0.93"/></g>
<g class="g"><path d="M1321.750 305.7V320.5"/><rect x="1321.000" y="308.0" width="1.500" height="10.0" stroke="none" fill-opacity="0.86"/><rect x="1320.500" y="307.5" width="2.500" height="11.0" fill="none" stroke-opacity="0.85"/></g>
<g class="g"><path d="M1325.125 300.6V317.0"/><rect x="1324.250" y="303.0" width="1.750" height="7.0" stroke="none" fill-opacity="0.79"/><rect x="1323.750" y="302.5" width="2.750" height="8.0" fill="none" stroke-opacity="0.78"/></g>
<g class="r"><path d="M1328.500 302.5V310.7"/><rect x="1328.000" y="306.0" width="1.000" height="1.0" stroke="none"/><rect x="1327.500" y="305.5" width="2.000" height="2.0" fill="none"/></g>
<g class="g"><path d="M1331.875 285.6V312.2"/><rect x="1331.000" y="291.0" width="1.750" height="18.0" stroke="none" fill-opacity="0.79"/><rect x="1330.500" y="290.5" width="2.750" height="19.0" fill="none" stroke-opacity="0.78"/></g>
<g class="r"><path d="M1335.250 288.9V312.0"/><rect x="1334.500" y="291.0" width="1.500" height="19.0" stroke="none" fill-opacity="0.86"/><rect x="1334.000" y="290.5" width="2.500" height="20.0" fill="none" stroke-opacity="0.85"/></g>
<g class="r"><path d="M1338.625 310.0V323.9"/><rect x="1338.000" y="312.0" width="1.250" height="2.0" stroke="none" fill-opacity="0.93"/><rect x="1337.500" y="311.5" width="2.250" height="3.0" fill="none" stroke-opacity="0.93"/></g>
<g class="r"><path d="M1342.000 313.8V338.8"/><rect x="1341.000" y="316.0" width="2.000" height="16.0" stroke="none" fill-opacity="0.72"/><rect x="1340.500" y="315.5" width="3.000" height="17.0" fill="none" stroke-opacity="0.70"/></g>
<g class="g"><path d="M1345.375 316.4V334.6"/><rect x="1344.750" y="330.0" width="1.250" height="2.0" stroke="none" fill-opacity="0.93"/><rect x="1344.250" y="329.5" width="2.250" height="3.0" fill="none" stroke-opacity="0.93"/></g>
<g class="g"><path d="M1348.750 313.9V328.8"/><rect x="1348.000" y="326.0" width="1.500" height="1.0" stroke="none" fill-opacity="0.86"/><rect x="1347.500" y="325.5" width="2.500" height="2.0" fill="none" stroke-opacity="0.85"/></g>
<g class="g"><path d="M1352.125 308.9V324.5"/><rect x="1351.250" y="313.0" width="1.750" height="9.0" stroke="none" fill-opacity="0.79"/><rect x="1350.750" y="312.5" width="2.750" height="10.0" fill="none" stroke-opacity="0.78"/></g>
<g class="r"><path d="M1355.500 310.0V330.1"/><rect x="1355.000" y="312.0" width="1.000" height="15.0" stroke="none"/><rect x="1354.500" y="311.5" width="2.000" height="16.0" fill="none"/></g>
<g class="g"><path d="M1358.875 310.0V335.2"/><rect x="1358.000" y="325.0" width="1.750" height="3.0" stroke="none" fill-opacity="0.79"/><rect x="1357.500" y="324.5" width="2.750" height="4.0" fill="none" stroke-opacity="0.78"/></g>
<g class="g"><path d="M1362.250 311.4V324.5"/><rect x="1361.500" y="319.0" width="1.500" height="2.0" stroke="none" fill-opacity="0.86"/><rect x="1361.000" y="318.5" width="2.500" height="3.0" fill="none" stroke-opacity="0.85"/></g>
<g class="g"><path d="M1365.625 300.1V322.2"/><rect x="1365.000" y="304.0" width="1.250" height="14.0" stroke="none" fill-opacity="0.93"/><rect x="1364.500" y="303.5" width="2.250" height="15.0" fill="none" stroke-opacity="0.93"/></g>
<g class="r"><path d="M1369.000 301.3V312.5"/><rect x="1368.000" y="303.0" width="2.000" height="5.0" stroke="none" fill-opacity="0.72"/><rect x="1367.500" y="302.5" width="3.000" height="6.0" fill="none" stroke-opacity="0.70"/></g>
<g class="r"><path d="M1372.375 306.4V319.5"/><rect x="1371.750" y="312.0" width="1.250" height="5.0" stroke="none" fill-opacity="0.93"/><rect x="1371.250" y="311.5" width="2.250" height="6.0" fill="none" stroke-opacity="0.93"/></g>
<g class="r"><path d="M1375.750 315.0V330.1"/><rect x="1375.000" y="318.0" width="1.500" height="9.0" stroke="none" fill-opacity="0.86"/><rect x="1374.500" y="317.5" width="2.500" height="10.0" fill="none" stroke-opacity="0.85"/></g>
<g class="r"><path d="M1379.125 319.7V337.1"/><rect x="1378.250" y="328.0" width="1.750" height="1.0" stroke="none" fill-opacity="0.79"/><rect x="1377.750" y="327.5" width="2.750" height="2.0" fill="none" stroke-opacity="0.78"/></g>
<g class="g"><path d="M1382.500 310.2V334.6"/><rect x="1382.000" y="316.0" width="1.000" height="12.0" stroke="none"/><rect x="1381.500" y="315.5" width="2.000" height="13.0" fill="none"/></g>
<g class="g"><path d="M1385.875 296.4V317.7"/><rect x="1385.000" y="298.0" width="1.750" height="14.0" stroke="none" fill-opacity="0.79"/><rect x="1384.500" y="297.5" width="2.750" height="15.0" fill="none" stroke-opacity="0.78"/></g>
<g class="g"><path d="M1389.250 295.6V310.2"/><rect x="1388.500" y="298.0" width="1.500" height="3.0" stroke="none" fill-opacity="0.86"/><rect x="1388.000" y="297.5" width="2.500" height="4.0" fill="none" stroke-opacity="0.85"/></g>
<g class="g"><path d="M1392.625 282.1V301.4"/><rect x="1392.000" y="290.0" width="1.250" height="3.0" stroke="none" fill-opacity="0.93"/><rect x="1391.500" y="289.5" width="2.250" height="4.0" fill="none" stroke-opacity="0.93"/></g>
<g class="r"><path d="M1396.000 293.1V320.5"/><rect x="1395.000" y="297.0" width="2.000" height="18.0" stroke="none" fill-opacity="0.72"/><rect x="1394.500" y="296.5" width="3.000" height="19.0" fill="none" stroke-opacity="0.70"/></g>
<g class="r"><path d="M1399.375 316.3V331.3"/><rect x="1398.750" y="319.0" width="1.250" height="8.0" stroke="none" fill-opacity="0.93"/><rect x="1398.250" y="318.5" width="2.250" height="9.0" fill="none" stroke-opacity="0.93"/></g>
<g class="r"><path d="M1402.750 321.3V338.8"/><rect x="1402.000" y="326.0" width="1.500" height="9.0" stroke="none" fill-opacity="0.86"/><rect x="1401.500" y="325.5" width="2.500" height="10.0" fill="none" stroke-opacity="0.85"/></g>
<g class="r"><path d="M1406.125 326.3V350.1"/><rect x="1405.250" y="335.0" width="1.750" height="14.0" stroke="none" fill-opacity="0.79"/><rect x="1404.750" y="334.5" width="2.750" height="15.0" fill="none" stroke-opacity="0.78"/></g>
<g class="g"><path d="M1409.500 340.1V348.8"/><path d="M1408.000 346.5H1411.000"/></g>
<g class="g"><path d="M1412.875 331.3V343.8"/><rect x="1412.000" y="337.0" width="1.750" height="5.0" stroke="none" fill-opacity="0.79"/><rect x="1411.500" y="336.5" width="2.750" height="6.0" fill="none" stroke-opacity="0.78"/></g>
<g class="g"><path d="M1416.250 332.6V347.1"/><path d="M1414.750 336.5H1417.750"/></g>
<g class="g"><path d="M1419.625 322.0V331.3"/><rect x="1419.000" y="326.0" width="1.250" height="4.0" stroke="none" fill-opacity="0.93"/><rect x="1418.500" y="325.5" width="2.250" height="5.0" fill="none" stroke-opacity="0.93"/></g>
<g class="r"><path d="M1423.000 322.5V340.6"/><rect x="1422.000" y="330.0" width="2.000" height="7.0" stroke="none" fill-opacity="0.72"/><rect x="1421.500" y="329.5" width="3.000" height="8.0" fill="none" stroke-opacity="0.70"/></g>
<g class="r"><path d="M1426.375 335.1V375.6"/><rect x="1425.750" y="338.0" width="1.250" height="29.0" stroke="none" fill-opacity="0.93"/><rect x="1425.250" y="337.5" width="2.250" height="30.0" fill="none" stroke-opacity="0.93"/></g>
<g class="g"><path d="M1429.750 353.9V368.1"/><rect x="1429.000" y="362.0" width="1.500" height="4.0" stroke="none" fill-opacity="0.86"/><rect x="1428.500" y="361.5" width="2.500" height="5.0" fill="none" stroke-opacity="0.85"/></g>
<g class="r"><path d="M1433.125 357.1V380.7"/><rect x="1432.250" y="361.0" width="1.750" height="9.0" stroke="none" fill-opacity="0.79"/><rect x="1431.750" y="360.5" width="2.750" height="10.0" fill="none" stroke-opacity="0.78"/></g>
<g class="r"><path d="M1436.500 362.6V381.4"/><rect x="1436.000" y="373.0" width="1.000" height="1.0" stroke="none"/><rect x="1435.500" y="372.5" width="2.000" height="2.0" fill="none"/></g>
<g class="r"><path d="M1439.875 366.4V387.2"/><rect x="1439.000" y="370.0" width="1.750" height="15.0" stroke="none" fill-opacity="0.79"/><rect x="1438.500" y="369.5" width="2.750" height="16.0" fill="none" stroke-opacity="0.78"/></g>
<g class="g"><path d="M1443.250 383.9V399.7"/><rect x="1442.500" y="387.0" width="1.500" height="1.0" stroke="none" fill-opacity="0.86"/><rect x="1442.000" y="386.5" width="2.500" height="2.0" fill="none" stroke-opacity="0.85"/></g>
<g class="r"><path d="M1446.625 385.2V401.4"/><rect x="1446.000" y="387.0" width="1.250" height="1.0" stroke="none" fill-opacity="0.93"/><rect x="1445.500" y="386.5" width="2.250" height="2.0" fill="none" stroke-opacity="0.93"/></g>
<g class="g"><path d="M1450.000 385.2V397.2"/><rect x="1449.000" y="388.0" width="2.000" height="2.0" stroke="none" fill-opacity="0.72"/><rect x="1448.500" y="387.5" width="3.000" height="3.0" fill="none" stroke-opacity="0.70"/></g>
<g class="g"><path d="M1453.375 357.1V383.9"/><rect x="1452.750" y="374.0" width="1.250" height="8.0" stroke="none" fill-opacity="0.93"/><rect x="1452.250" y="373.5" width="2.250" height="9.0" fill="none" stroke-opacity="0.93"/></g>
<g class="g"><path d="M1456.750 330.1V358.9"/><rect x="1456.000" y="335.0" width="1.500" height="21.0" stroke="none" fill-opacity="0.86"/><rect x="1455.500" y="334.5" width="2.500" height="22.0" fill="none" stroke-opacity="0.85"/></g>
<g class="r"><path d="M1460.125 325.0V347.6"/><rect x="1459.250" y="335.0" width="1.750" height="2.0" stroke="none" fill-opacity="0.79"/><rect x="1458.750" y="334.5" width="2.750" height="3.0" fill="none" stroke-opacity="0.78"/></g>
<g class="r"><path d="M1463.500 330.1V348.8"/><rect x="1463.000" y="336.0" width="1.000" height="2.0" stroke="none"/><rect x="1462.500" y="335.5" width="2.000" height="3.0" fill="none"/></g>
<g class="r"><path d="M1466.875 337.1V357.6"/><rect x="1466.000" y="339.0" width="1.750" height="14.0" stroke="none" fill-opacity="0.79"/><rect x="1465.500" y="338.5" width="2.750" height="15.0" fill="none" stroke-opacity="0.78"/></g>
<g class="g"><path d="M1470.250 345.1V358.1"/><rect x="1469.500" y="350.0" width="1.500" height="1.0" stroke="none" fill-opacity="0.86"/><rect x="1469.000" y="349.5" width="2.500" height="2.0" fill="none" stroke-opacity="0.85"/></g>
<g class="g"><path d="M1473.625 345.6V355.6"/><rect x="1473.000" y="349.0" width="1.250" height="1.0" stroke="none" fill-opacity="0.93"/><rect x="1472.500" y="348.5" width="2.250" height="2.0" fill="none" stroke-opacity="0.93"/></g>
<g class="g"><path d="M1477.000 340.1V355.6"/><rect x="1476.000" y="344.0" width="2.000" height="5.0" stroke="none" fill-opacity="0.72"/><rect x="1475.500" y="343.5" width="3.000" height="6.0" fill="none" stroke-opacity="0.70"/></g>
<g class="r"><path d="M1480.375 338.1V347.6"/><rect x="1479.750" y="339.0" width="1.250" height="3.0" stroke="none" fill-opacity="0.93"/><rect x="1479.250" y="338.5" width="2.250" height="4.0" fill="none" stroke-opacity="0.93"/></g>
<g class="r"><path d="M1483.750 342.6V353.9"/><rect x="1483.000" y="345.0" width="1.500" height="3.0" stroke="none" fill-opacity="0.86"/><rect x="1482.500" y="344.5" width="2.500" height="4.0" fill="none" stroke-opacity="0.85"/></g>
<g class="r"><path d="M1487.125 342.6V361.4"/><rect x="1486.250" y="351.0" width="1.750" height="9.0" stroke="none" fill-opacity="0.79"/><rect x="1485.750" y="350.5" width="2.750" height="10.0" fill="none" stroke-opacity="0.78"/></g>
<g class="r"><path d="M1490.500 349.6V368.9"/><rect x="1490.000" y="359.0" width="1.000" height="1.0" stroke="none"/><rect x="1489.500" y="358.5" width="2.000" height="2.0" fill="none"/></g>
<g class="g"><path d="M1493.875 350.1V362.6"/><path d="M1492.375 358.5H1495.375"/></g>
<g class="g"><path d="M1497.250 350.1V358.9"/><rect x="1496.500" y="354.0" width="1.500" height="1.0" stroke="none" fill-opacity="0.86"/><rect x="1496.000" y="353.5" width="2.500" height="2.0" fill="none" stroke-opacity="0.85"/></g>
<g class="g"><path d="M1500.625 340.1V355.1"/><rect x="1500.000" y="344.0" width="1.250" height="9.0" stroke="none" fill-opacity="0.93"/><rect x="1499.500" y="343.5" width="2.250" height="10.0" fill="none" stroke-opacity="0.93"/></g>
<g class="r"><path d="M1504.000 342.6V374.6"/><rect x="1503.000" y="344.0" width="2.000" height="28.0" stroke="none" fill-opacity="0.72"/><rect x="1502.500" y="343.5" width="3.000" height="29.0" fill="none" stroke-opacity="0.70"/></g>
<g class="g"><path d="M1507.375 365.1V376.4"/><rect x="1506.750" y="371.0" width="1.250" height="1.0" stroke="none" fill-opacity="0.93"/><rect x="1506.250" y="370.5" width="2.250" height="2.0" fill="none" stroke-opacity="0.93"/></g>
<g class="g"><path d="M1510.750 348.8V370.6"/><rect x="1510.000" y="356.0" width="1.500" height="13.0" stroke="none" fill-opacity="0.86"/><rect x="1509.500" y="355.5" width="2.500" height="14.0" fill="none" stroke-opacity="0.85"/></g>
<g class="g"><path d="M1514.125 348.8V362.6"/><path d="M1512.625 356.5H1515.625"/></g>
<g class="g"><path d="M1517.500 345.6V360.1"/><rect x="1517.000" y="349.0" width="1.000" height="8.0" stroke="none"/><rect x="1516.500" y="348.5" width="2.000" height="9.0" fill="none"/></g>
<g class="r"><path d="M1520.875 347.1V370.6"/><rect x="1520.000" y="349.0" width="1.750" height="13.0" stroke="none" fill-opacity="0.79"/><rect x="1519.500" y="348.5" width="2.750" height="14.0" fill="none" stroke-opacity="0.78"/></g>
<g class="r"><path d="M1524.250 355.6V370.6"/><rect x="1523.500" y="363.0" width="1.500" height="3.0" stroke="none" fill-opacity="0.86"/><rect x="1523.000" y="362.5" width="2.500" height="4.0" fill="none" stroke-opacity="0.85"/></g>
<g class="r"><path d="M1527.625 366.4V385.7"/><rect x="1527.000" y="371.0" width="1.250" height="6.0" stroke="none" fill-opacity="0.93"/><rect x="1526.500" y="370.5" width="2.250" height="7.0" fill="none" stroke-opacity="0.93"/></g>
<g class="g"><path d="M1531.000 366.4V383.9"/><rect x="1530.000" y="370.0" width="2.000" height="7.0" stroke="none" fill-opacity="0.72"/><rect x="1529.500" y="369.5" width="3.000" height="8.0" fill="none" stroke-opacity="0.70"/></g>
<g class="r"><path d="M1534.375 367.1V387.7"/><rect x="1533.750" y="369.0" width="1.250" height="8.0" stroke="none" fill-opacity="0.93"/><rect x="1533.250" y="368.5" width="2.250" height="9.0" fill="none" stroke-opacity="0.93"/></g>
<g class="g"><path d="M1537.750 369.6V382.7"/><rect x="1537.000" y="372.0" width="1.500" height="5.0" stroke="none" fill-opacity="0.86"/><rect x="1536.500" y="371.5" width="2.500" height="6.0" fill="none" stroke-opacity="0.85"/></g>
<g class="r"><path d="M1541.125 358.9V375.1"/><rect x="1540.250" y="372.0" width="1.750" height="1.0" stroke="none" fill-opacity="0.79"/><rect x="1539.750" y="371.5" width="2.750" height="2.0" fill="none" stroke-opacity="0.78"/></g>
<g class="g"><path d="M1544.500 356.4V368.9"/><rect x="1544.000" y="363.0" width="1.000" height="3.0" stroke="none"/><rect x="1543.500" y="362.5" width="2.000" height="4.0" fill="none"/></g>
</g>
<rect x="0" y="0" width="356" height="21" fill="#ffffff" fill-opacity="0.85"/>
<filter id="nf" filterUnits="userSpaceOnUse" x="0" y="0" width="1597" height="444"><feOffset dx="0" dy="0"/></filter><g filter="url(#nf)">
<text class="t" x="12" y="19.2" fill="#a3a9c0" stroke="#a3a9c0" >Dec 1</text>
<text class="t" x="60.3" y="19.2" fill="#a3a9c0" stroke="#a3a9c0" >O</text>
<text class="t" x="71.6" y="19.2" fill="#0fa65a" stroke="#0fa65a" >58.96</text>
<text class="t" x="118.8" y="19.2" fill="#a3a9c0" stroke="#a3a9c0" >H</text>
<text class="t" x="129.2" y="19.2" fill="#0fa65a" stroke="#0fa65a" >59.97</text>
<text class="t" x="176.5" y="19.2" fill="#a3a9c0" stroke="#a3a9c0" >L</text>
<text class="t" x="184.4" y="19.2" fill="#0fa65a" stroke="#0fa65a" >58.83</text>
<text class="t" x="231.5" y="19.2" fill="#a3a9c0" stroke="#a3a9c0" >C</text>
<text class="t" x="241.6" y="19.2" fill="#0fa65a" stroke="#0fa65a" >59.33</text>
<text class="t" x="288.8" y="19.2" fill="#a3a9c0" stroke="#a3a9c0" >Vol</text>
<text class="t" x="307.2" y="19.2" fill="#0fa65a" stroke="#0fa65a" >109.88K</text>
<text class="t" x="1555.8" y="12.1" fill="#828282" stroke="#828282" >90.00</text>
<text class="t" x="1555.8" y="68.7" fill="#828282" stroke="#828282" >85.00</text>
<text class="t" x="1555.8" y="126.7" fill="#828282" stroke="#828282" >80.00</text>
<text class="t" x="1555.8" y="184.7" fill="#828282" stroke="#828282" >75.00</text>
<text class="t" x="1555.8" y="242.7" fill="#828282" stroke="#828282" >70.00</text>
<text class="t" x="1555.8" y="300.7" fill="#828282" stroke="#828282" >65.00</text>
<text class="t" x="1555.8" y="358.7" fill="#828282" stroke="#828282" >60.00</text>
<text class="t" x="1555.8" y="416.7" fill="#828282" stroke="#828282" >55.00</text>
<rect x="1553" y="354.6" width="34.1" height="13.4" fill="#fff000"/>
<text class="t" x="1555.9" y="365.6" fill="#1c2238" stroke="#1c2238" >59.33</text>
<text class="t" x="8.1" y="349.2" fill="#828282" stroke="#828282" >800k</text>
<text class="t" x="8.1" y="366.1" fill="#828282" stroke="#828282" >600k</text>
<text class="t" x="8.1" y="382.9" fill="#828282" stroke="#828282" >400k</text>
<text class="t" x="8.1" y="399.6" fill="#828282" stroke="#828282" >200k</text>
<text class="t" x="58.8" y="432.0" fill="#828282" stroke="#828282" text-anchor="middle">Mar</text>
<text class="t" x="126.6" y="432.0" fill="#828282" stroke="#828282" text-anchor="middle">Apr</text>
<text class="t" x="200.8" y="432.0" fill="#828282" stroke="#828282" text-anchor="middle">May</text>
<text class="t" x="275" y="432.0" fill="#828282" stroke="#828282" text-anchor="middle">Jun</text>
<text class="t" x="339" y="432.0" fill="#828282" stroke="#828282" text-anchor="middle">Jul</text>
<text class="t" x="413.5" y="432.0" fill="#828282" stroke="#828282" text-anchor="middle">Aug</text>
<text class="t" x="487.6" y="432.0" fill="#828282" stroke="#828282" text-anchor="middle">Sep</text>
<text class="t" x="555.2" y="432.0" fill="#828282" stroke="#828282" text-anchor="middle">Oct</text>
<text class="t" x="632.9" y="432.0" fill="#828282" stroke="#828282" text-anchor="middle">Nov</text>
<text class="t" x="700.5" y="432.0" fill="#828282" stroke="#828282" text-anchor="middle">Dec</text>
<text class="t" x="771.1" y="432.0" fill="#828282" stroke="#828282" text-anchor="middle">2025</text>
<text class="t" x="842" y="432.0" fill="#828282" stroke="#828282" text-anchor="middle">Feb</text>
<text class="t" x="906.4" y="432.0" fill="#828282" stroke="#828282" text-anchor="middle">Mar</text>
<text class="t" x="977.3" y="432.0" fill="#828282" stroke="#828282" text-anchor="middle">Apr</text>
<text class="t" x="1047.4" y="432.0" fill="#828282" stroke="#828282" text-anchor="middle">May</text>
<text class="t" x="1118.5" y="432.0" fill="#828282" stroke="#828282" text-anchor="middle">Jun</text>
<text class="t" x="1186.2" y="432.0" fill="#828282" stroke="#828282" text-anchor="middle">Jul</text>
<text class="t" x="1260.4" y="432.0" fill="#828282" stroke="#828282" text-anchor="middle">Aug</text>
<text class="t" x="1331.2" y="432.0" fill="#828282" stroke="#828282" text-anchor="middle">Sep</text>
<text class="t" x="1402.4" y="432.0" fill="#828282" stroke="#828282" text-anchor="middle">Oct</text>
<text class="t" x="1480" y="432.0" fill="#828282" stroke="#828282" text-anchor="middle">Nov</text>
<text class="t" x="1546.5" y="432.0" fill="#828282" stroke="#828282" text-anchor="end">Dec</text>
</g>
</svg></body></html>
